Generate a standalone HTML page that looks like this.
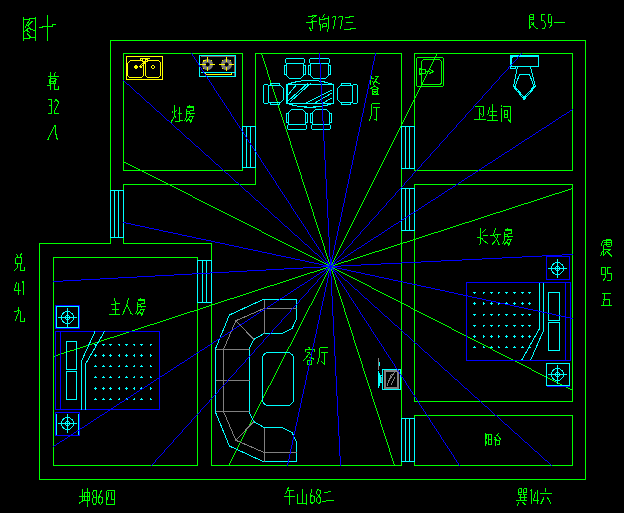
<!DOCTYPE html>
<html><head><meta charset="utf-8"><style>
html,body{margin:0;padding:0;background:#000;width:624px;height:513px;overflow:hidden;font-family:"Liberation Sans",sans-serif}
svg{display:block}
</style></head><body>
<svg width="624" height="513" viewBox="0 0 624 513" shape-rendering="crispEdges" fill="none" stroke-width="1">
<rect x="0" y="0" width="624" height="513" fill="#000" stroke="none"/>
<polyline points="110.50,190.50 110.50,40.50 585.50,40.50 585.50,479.50 39.50,479.50 39.50,243.50 110.50,243.50 110.50,237.50" stroke="#00ff00"/>
<polyline points="242.50,126.00 242.50,53.50 123.50,53.50 123.50,170.50 242.50,170.50 242.50,167.50" stroke="#00ff00"/>
<polyline points="255.50,126.00 255.50,53.50 401.50,53.50 401.50,126.00" stroke="#00ff00"/>
<polyline points="255.50,167.50 255.50,184.50 123.50,184.50 123.50,190.50" stroke="#00ff00"/>
<polyline points="123.50,237.50 123.50,243.50 211.50,243.50 211.50,260.00" stroke="#00ff00"/>
<polyline points="211.50,302.50 211.50,465.50 401.50,465.50 401.50,461.25" stroke="#00ff00"/>
<line x1="401.50" y1="168.00" x2="401.50" y2="188.00" stroke="#00ff00"/>
<line x1="401.50" y1="230.50" x2="401.50" y2="418.75" stroke="#00ff00"/>
<polyline points="197.50,260.00 197.50,257.50 53.50,257.50 53.50,465.50 197.50,465.50 197.50,302.50" stroke="#00ff00"/>
<polyline points="414.50,126.00 414.50,53.50 572.50,53.50 572.50,170.50 414.50,170.50 414.50,168.00" stroke="#00ff00"/>
<polyline points="414.50,188.00 414.50,184.50 572.50,184.50 572.50,401.50 414.50,401.50 414.50,230.50" stroke="#00ff00"/>
<polyline points="414.50,418.75 414.50,415.50 572.50,415.50 572.50,465.50 414.50,465.50 414.50,461.25" stroke="#00ff00"/>
<path d="M330 266v1h1V266zM331 264v2h1V264zM332 262v2h1V262zM333 260v2h1V260zM334 258v2h1V258zM335 256v2h1V256zM336 254v2h1V254zM337 252v2h1V252zM338 250v2h1V250zM339 248v2h1V248zM340 246v2h1V246zM341 244v2h1V244zM342 242v2h1V242zM343 240v2h1V240zM344 238v2h1V238zM345 236v2h1V236zM346 234v2h1V234zM347 232v2h1V232zM348 230v2h1V230zM349 228v2h1V228zM350 226v2h1V226zM351 224v2h1V224zM352 222v2h1V222zM353 220v2h1V220zM354 218v2h1V218zM355 216v2h1V216zM356 214v2h1V214zM357 212v2h1V212zM358 210v2h1V210zM359 208v2h1V208zM360 206v2h1V206zM361 204v2h1V204zM362 202v2h1V202zM363 200v2h1V200zM364 198v2h1V198zM365 196v2h1V196zM366 194v2h1V194zM367 192v2h1V192zM368 190v2h1V190zM369 188v2h1V188zM370 186v2h1V186zM371 184v2h1V184zM372 182v2h1V182zM373 180v2h1V180zM374 178v2h1V178zM375 176v2h1V176zM376 174v2h1V174zM377 172v2h1V172zM378 170v2h1V170zM379 168v2h1V168zM380 166v2h1V166zM381 164v2h1V164zM382 162v2h1V162zM383 160v2h1V160zM384 158v2h1V158zM385 156v2h1V156zM386 154v2h1V154zM387 152v2h1V152zM388 150v2h1V150zM389 148v2h1V148zM390 146v2h1V146zM391 144v2h1V144zM392 142v2h1V142zM393 140v2h1V140zM394 138v2h1V138zM395 136v2h1V136zM396 134v2h1V134zM397 132v2h1V132zM398 130v2h1V130zM399 128v2h1V128zM400 126v2h1V126zM401 124v2h1V124zM402 122v2h1V122zM403 120v2h1V120zM404 118v2h1V118zM405 116v2h1V116zM406 114v2h1V114zM407 112v2h1V112zM408 110v2h1V110zM409 108v2h1V108zM410 106v2h1V106zM411 104v2h1V104zM412 102v2h1V102zM413 100v2h1V100zM414 98v2h1V98zM415 96v2h1V96zM416 94v2h1V94zM417 92v2h1V92zM418 90v2h1V90zM419 88v2h1V88zM420 86v2h1V86zM421 84v2h1V84zM422 82v2h1V82zM423 80v2h1V80zM424 78v2h1V78zM425 76v2h1V76zM426 74v2h1V74zM427 72v2h1V72zM428 70v2h1V70zM429 68v2h1V68zM430 66v2h1V66zM431 64v2h1V64zM432 62v2h1V62zM433 60v2h1V60zM434 58v2h1V58zM435 56v2h1V56zM436 54v2h1V54zM437 53v1h1V53z" fill="#00ff00" stroke="none"/>
<path d="M571 188h2v1H571zM568 189h3v1H568zM565 190h3v1H565zM562 191h3v1H562zM559 192h3v1H559zM555 193h4v1H555zM552 194h3v1H552zM549 195h3v1H549zM546 196h3v1H546zM543 197h3v1H543zM540 198h3v1H540zM537 199h3v1H537zM534 200h3v1H534zM531 201h3v1H531zM528 202h3v1H528zM524 203h4v1H524zM521 204h3v1H521zM518 205h3v1H518zM515 206h3v1H515zM512 207h3v1H512zM509 208h3v1H509zM506 209h3v1H506zM503 210h3v1H503zM500 211h3v1H500zM496 212h4v1H496zM493 213h3v1H493zM490 214h3v1H490zM487 215h3v1H487zM484 216h3v1H484zM481 217h3v1H481zM478 218h3v1H478zM475 219h3v1H475zM472 220h3v1H472zM469 221h3v1H469zM465 222h4v1H465zM462 223h3v1H462zM459 224h3v1H459zM456 225h3v1H456zM453 226h3v1H453zM450 227h3v1H450zM447 228h3v1H447zM444 229h3v1H444zM441 230h3v1H441zM438 231h3v1H438zM434 232h4v1H434zM431 233h3v1H431zM428 234h3v1H428zM425 235h3v1H425zM422 236h3v1H422zM419 237h3v1H419zM416 238h3v1H416zM413 239h3v1H413zM410 240h3v1H410zM407 241h3v1H407zM403 242h4v1H403zM400 243h3v1H400zM397 244h3v1H397zM394 245h3v1H394zM391 246h3v1H391zM388 247h3v1H388zM385 248h3v1H385zM382 249h3v1H382zM379 250h3v1H379zM375 251h4v1H375zM372 252h3v1H372zM369 253h3v1H369zM366 254h3v1H366zM363 255h3v1H363zM360 256h3v1H360zM357 257h3v1H357zM354 258h3v1H354zM351 259h3v1H351zM348 260h3v1H348zM344 261h4v1H344zM341 262h3v1H341zM338 263h3v1H338zM335 264h3v1H335zM332 265h3v1H332zM330 266h2v1H330z" fill="#00ff00" stroke="none"/>
<path d="M330 266h1v1H330zM331 267h2v1H331zM333 268h2v1H333zM335 269h2v1H335zM337 270h2v1H337zM339 271h2v1H339zM341 272h2v1H341zM343 273h2v1H343zM345 274h2v1H345zM347 275h2v1H347zM349 276h2v1H349zM351 277h2v1H351zM353 278h2v1H353zM355 279h2v1H355zM357 280h2v1H357zM359 281h2v1H359zM361 282h2v1H361zM363 283h2v1H363zM365 284h2v1H365zM367 285h2v1H367zM369 286h2v1H369zM371 287h1v1H371zM372 288h2v1H372zM374 289h2v1H374zM376 290h2v1H376zM378 291h2v1H378zM380 292h2v1H380zM382 293h2v1H382zM384 294h2v1H384zM386 295h2v1H386zM388 296h2v1H388zM390 297h2v1H390zM392 298h2v1H392zM394 299h2v1H394zM396 300h2v1H396zM398 301h2v1H398zM400 302h2v1H400zM402 303h2v1H402zM404 304h2v1H404zM406 305h2v1H406zM408 306h2v1H408zM410 307h1v1H410zM411 308h2v1H411zM413 309h2v1H413zM415 310h2v1H415zM417 311h2v1H417zM419 312h2v1H419zM421 313h2v1H421zM423 314h2v1H423zM425 315h2v1H425zM427 316h2v1H427zM429 317h2v1H429zM431 318h2v1H431zM433 319h2v1H433zM435 320h2v1H435zM437 321h2v1H437zM439 322h2v1H439zM441 323h2v1H441zM443 324h2v1H443zM445 325h2v1H445zM447 326h2v1H447zM449 327h2v1H449zM451 328h1v1H451zM452 329h2v1H452zM454 330h2v1H454zM456 331h2v1H456zM458 332h2v1H458zM460 333h2v1H460zM462 334h2v1H462zM464 335h2v1H464zM466 336h2v1H466zM468 337h2v1H468zM470 338h2v1H470zM472 339h2v1H472zM474 340h2v1H474zM476 341h2v1H476zM478 342h2v1H478zM480 343h2v1H480zM482 344h2v1H482zM484 345h2v1H484zM486 346h2v1H486zM488 347h2v1H488zM490 348h2v1H490zM492 349h1v1H492zM493 350h2v1H493zM495 351h2v1H495zM497 352h2v1H497zM499 353h2v1H499zM501 354h2v1H501zM503 355h2v1H503zM505 356h2v1H505zM507 357h2v1H507zM509 358h2v1H509zM511 359h2v1H511zM513 360h2v1H513zM515 361h2v1H515zM517 362h2v1H517zM519 363h2v1H519zM521 364h2v1H521zM523 365h2v1H523zM525 366h2v1H525zM527 367h2v1H527zM529 368h2v1H529zM531 369h1v1H531zM532 370h2v1H532zM534 371h2v1H534zM536 372h2v1H536zM538 373h2v1H538zM540 374h2v1H540zM542 375h2v1H542zM544 376h2v1H544zM546 377h2v1H546zM548 378h2v1H548zM550 379h2v1H550zM552 380h2v1H552zM554 381h2v1H554zM556 382h2v1H556zM558 383h2v1H558zM560 384h2v1H560zM562 385h2v1H562zM564 386h2v1H564zM566 387h2v1H566zM568 388h2v1H568zM570 389h2v1H570zM572 390h1v1H572z" fill="#00ff00" stroke="none"/>
<path d="M330 266v2h1V266zM331 268v3h1V268zM332 271v3h1V271zM333 274v3h1V274zM334 277v3h1V277zM335 280v4h1V280zM336 284v3h1V284zM337 287v3h1V287zM338 290v3h1V290zM339 293v3h1V293zM340 296v3h1V296zM341 299v3h1V299zM342 302v3h1V302zM343 305v3h1V305zM344 308v4h1V308zM345 312v3h1V312zM346 315v3h1V315zM347 318v3h1V318zM348 321v3h1V321zM349 324v3h1V324zM350 327v3h1V327zM351 330v3h1V330zM352 333v3h1V333zM353 336v4h1V336zM354 340v3h1V340zM355 343v3h1V343zM356 346v3h1V346zM357 349v3h1V349zM358 352v3h1V352zM359 355v3h1V355zM360 358v3h1V358zM361 361v3h1V361zM362 364v4h1V364zM363 368v3h1V368zM364 371v3h1V371zM365 374v3h1V374zM366 377v3h1V377zM367 380v3h1V380zM368 383v3h1V383zM369 386v3h1V386zM370 389v3h1V389zM371 392v4h1V392zM372 396v3h1V396zM373 399v3h1V399zM374 402v3h1V402zM375 405v3h1V405zM376 408v3h1V408zM377 411v3h1V411zM378 414v3h1V414zM379 417v3h1V417zM380 420v4h1V420zM381 424v3h1V424zM382 427v3h1V427zM383 430v3h1V430zM384 433v3h1V433zM385 436v3h1V436zM386 439v3h1V439zM387 442v3h1V442zM388 445v3h1V445zM389 448v4h1V448zM390 452v3h1V452zM391 455v3h1V455zM392 458v3h1V458zM393 461v3h1V461zM394 464v2h1V464z" fill="#00ff00" stroke="none"/>
<path d="M228 465v1h1V465zM229 463v2h1V463zM230 461v2h1V461zM231 459v2h1V459zM232 457v2h1V457zM233 455v2h1V455zM234 453v2h1V453zM235 451v2h1V451zM236 449v2h1V449zM237 447v2h1V447zM238 445v2h1V445zM239 443v2h1V443zM240 441v2h1V441zM241 439v2h1V439zM242 437v2h1V437zM243 435v2h1V435zM244 433v2h1V433zM245 431v2h1V431zM246 429v2h1V429zM247 427v2h1V427zM248 426v1h1V426zM249 424v2h1V424zM250 422v2h1V422zM251 420v2h1V420zM252 418v2h1V418zM253 416v2h1V416zM254 414v2h1V414zM255 412v2h1V412zM256 410v2h1V410zM257 408v2h1V408zM258 406v2h1V406zM259 404v2h1V404zM260 402v2h1V402zM261 400v2h1V400zM262 398v2h1V398zM263 396v2h1V396zM264 394v2h1V394zM265 392v2h1V392zM266 390v2h1V390zM267 388v2h1V388zM268 386v2h1V386zM269 385v1h1V385zM270 383v2h1V383zM271 381v2h1V381zM272 379v2h1V379zM273 377v2h1V377zM274 375v2h1V375zM275 373v2h1V373zM276 371v2h1V371zM277 369v2h1V369zM278 367v2h1V367zM279 365v2h1V365zM280 363v2h1V363zM281 361v2h1V361zM282 359v2h1V359zM283 357v2h1V357zM284 355v2h1V355zM285 353v2h1V353zM286 351v2h1V351zM287 349v2h1V349zM288 347v2h1V347zM289 346v1h1V346zM290 344v2h1V344zM291 342v2h1V342zM292 340v2h1V340zM293 338v2h1V338zM294 336v2h1V336zM295 334v2h1V334zM296 332v2h1V332zM297 330v2h1V330zM298 328v2h1V328zM299 326v2h1V326zM300 324v2h1V324zM301 322v2h1V322zM302 320v2h1V320zM303 318v2h1V318zM304 316v2h1V316zM305 314v2h1V314zM306 312v2h1V312zM307 310v2h1V310zM308 308v2h1V308zM309 306v2h1V306zM310 305v1h1V305zM311 303v2h1V303zM312 301v2h1V301zM313 299v2h1V299zM314 297v2h1V297zM315 295v2h1V295zM316 293v2h1V293zM317 291v2h1V291zM318 289v2h1V289zM319 287v2h1V287zM320 285v2h1V285zM321 283v2h1V283zM322 281v2h1V281zM323 279v2h1V279zM324 277v2h1V277zM325 275v2h1V275zM326 273v2h1V273zM327 271v2h1V271zM328 269v2h1V269zM329 267v2h1V267zM330 266v1h1V266z" fill="#00ff00" stroke="none"/>
<path d="M329 266h2v1H329zM326 267h3v1H326zM323 268h3v1H323zM320 269h3v1H320zM317 270h3v1H317zM314 271h3v1H314zM310 272h4v1H310zM307 273h3v1H307zM304 274h3v1H304zM301 275h3v1H301zM298 276h3v1H298zM295 277h3v1H295zM292 278h3v1H292zM289 279h3v1H289zM286 280h3v1H286zM283 281h3v1H283zM280 282h3v1H280zM277 283h3v1H277zM274 284h3v1H274zM270 285h4v1H270zM267 286h3v1H267zM264 287h3v1H264zM261 288h3v1H261zM258 289h3v1H258zM255 290h3v1H255zM252 291h3v1H252zM249 292h3v1H249zM246 293h3v1H246zM243 294h3v1H243zM240 295h3v1H240zM237 296h3v1H237zM234 297h3v1H234zM230 298h4v1H230zM227 299h3v1H227zM224 300h3v1H224zM221 301h3v1H221zM218 302h3v1H218zM215 303h3v1H215zM212 304h3v1H212zM209 305h3v1H209zM206 306h3v1H206zM203 307h3v1H203zM200 308h3v1H200zM197 309h3v1H197zM194 310h3v1H194zM190 311h4v1H190zM187 312h3v1H187zM184 313h3v1H184zM181 314h3v1H181zM178 315h3v1H178zM175 316h3v1H175zM172 317h3v1H172zM169 318h3v1H169zM166 319h3v1H166zM163 320h3v1H163zM160 321h3v1H160zM157 322h3v1H157zM154 323h3v1H154zM150 324h4v1H150zM147 325h3v1H147zM144 326h3v1H144zM141 327h3v1H141zM138 328h3v1H138zM135 329h3v1H135zM132 330h3v1H132zM129 331h3v1H129zM126 332h3v1H126zM123 333h3v1H123zM120 334h3v1H120zM117 335h3v1H117zM114 336h3v1H114zM110 337h4v1H110zM107 338h3v1H107zM104 339h3v1H104zM101 340h3v1H101zM98 341h3v1H98zM95 342h3v1H95zM92 343h3v1H92zM89 344h3v1H89zM86 345h3v1H86zM83 346h3v1H83zM80 347h3v1H80zM77 348h3v1H77zM74 349h3v1H74zM70 350h4v1H70zM67 351h3v1H67zM64 352h3v1H64zM61 353h3v1H61zM58 354h3v1H58zM55 355h3v1H55zM53 356h2v1H53z" fill="#00ff00" stroke="none"/>
<path d="M123 161h1v1H123zM124 162h2v1H124zM126 163h2v1H126zM128 164h2v1H128zM130 165h2v1H130zM132 166h2v1H132zM134 167h2v1H134zM136 168h2v1H136zM138 169h2v1H138zM140 170h2v1H140zM142 171h2v1H142zM144 172h2v1H144zM146 173h2v1H146zM148 174h2v1H148zM150 175h2v1H150zM152 176h2v1H152zM154 177h2v1H154zM156 178h2v1H156zM158 179h2v1H158zM160 180h2v1H160zM162 181h2v1H162zM164 182h2v1H164zM166 183h2v1H166zM168 184h2v1H168zM170 185h2v1H170zM172 186h2v1H172zM174 187h2v1H174zM176 188h2v1H176zM178 189h2v1H178zM180 190h2v1H180zM182 191h2v1H182zM184 192h2v1H184zM186 193h2v1H186zM188 194h2v1H188zM190 195h2v1H190zM192 196h1v1H192zM193 197h2v1H193zM195 198h2v1H195zM197 199h2v1H197zM199 200h2v1H199zM201 201h2v1H201zM203 202h2v1H203zM205 203h2v1H205zM207 204h2v1H207zM209 205h2v1H209zM211 206h2v1H211zM213 207h2v1H213zM215 208h2v1H215zM217 209h2v1H217zM219 210h2v1H219zM221 211h2v1H221zM223 212h2v1H223zM225 213h2v1H225zM227 214h2v1H227zM229 215h2v1H229zM231 216h2v1H231zM233 217h2v1H233zM235 218h2v1H235zM237 219h2v1H237zM239 220h2v1H239zM241 221h2v1H241zM243 222h2v1H243zM245 223h2v1H245zM247 224h2v1H247zM249 225h2v1H249zM251 226h2v1H251zM253 227h2v1H253zM255 228h2v1H255zM257 229h2v1H257zM259 230h2v1H259zM261 231h1v1H261zM262 232h2v1H262zM264 233h2v1H264zM266 234h2v1H266zM268 235h2v1H268zM270 236h2v1H270zM272 237h2v1H272zM274 238h2v1H274zM276 239h2v1H276zM278 240h2v1H278zM280 241h2v1H280zM282 242h2v1H282zM284 243h2v1H284zM286 244h2v1H286zM288 245h2v1H288zM290 246h2v1H290zM292 247h2v1H292zM294 248h2v1H294zM296 249h2v1H296zM298 250h2v1H298zM300 251h2v1H300zM302 252h2v1H302zM304 253h2v1H304zM306 254h2v1H306zM308 255h2v1H308zM310 256h2v1H310zM312 257h2v1H312zM314 258h2v1H314zM316 259h2v1H316zM318 260h2v1H318zM320 261h2v1H320zM322 262h2v1H322zM324 263h2v1H324zM326 264h2v1H326zM328 265h2v1H328zM330 266h1v1H330z" fill="#00ff00" stroke="none"/>
<path d="M261 53v2h1V53zM262 55v3h1V55zM263 58v3h1V58zM264 61v3h1V61zM265 64v3h1V64zM266 67v3h1V67zM267 70v4h1V70zM268 74v3h1V74zM269 77v3h1V77zM270 80v3h1V80zM271 83v3h1V83zM272 86v3h1V86zM273 89v3h1V89zM274 92v3h1V92zM275 95v3h1V95zM276 98v3h1V98zM277 101v3h1V101zM278 104v4h1V104zM279 108v3h1V108zM280 111v3h1V111zM281 114v3h1V114zM282 117v3h1V117zM283 120v3h1V120zM284 123v3h1V123zM285 126v3h1V126zM286 129v3h1V129zM287 132v3h1V132zM288 135v3h1V135zM289 138v3h1V138zM290 141v4h1V141zM291 145v3h1V145zM292 148v3h1V148zM293 151v3h1V151zM294 154v3h1V154zM295 157v3h1V157zM296 160v3h1V160zM297 163v3h1V163zM298 166v3h1V166zM299 169v3h1V169zM300 172v3h1V172zM301 175v4h1V175zM302 179v3h1V179zM303 182v3h1V182zM304 185v3h1V185zM305 188v3h1V188zM306 191v3h1V191zM307 194v3h1V194zM308 197v3h1V197zM309 200v3h1V200zM310 203v3h1V203zM311 206v3h1V206zM312 209v3h1V209zM313 212v4h1V212zM314 216v3h1V216zM315 219v3h1V219zM316 222v3h1V222zM317 225v3h1V225zM318 228v3h1V228zM319 231v3h1V231zM320 234v3h1V234zM321 237v3h1V237zM322 240v3h1V240zM323 243v3h1V243zM324 246v4h1V246zM325 250v3h1V250zM326 253v3h1V253zM327 256v3h1V256zM328 259v3h1V259zM329 262v3h1V262zM330 265v2h1V265z" fill="#00ff00" stroke="none"/>
<rect x="242.5" y="126.5" width="13.0" height="41.0" stroke="#00ffff"/>
<line x1="246.50" y1="126.50" x2="246.50" y2="167.50" stroke="#00ffff"/>
<line x1="250.50" y1="126.50" x2="250.50" y2="167.50" stroke="#00ffff"/>
<rect x="110.5" y="190.5" width="13.0" height="47.0" stroke="#00ffff"/>
<line x1="114.50" y1="190.50" x2="114.50" y2="237.50" stroke="#00ffff"/>
<line x1="118.50" y1="190.50" x2="118.50" y2="237.50" stroke="#00ffff"/>
<rect x="197.5" y="260.5" width="14.0" height="42.0" stroke="#00ffff"/>
<line x1="202.00" y1="260.50" x2="202.00" y2="302.50" stroke="#00ffff"/>
<line x1="206.00" y1="260.50" x2="206.00" y2="302.50" stroke="#00ffff"/>
<rect x="401.5" y="126.5" width="13.0" height="42.0" stroke="#00ffff"/>
<line x1="405.50" y1="126.50" x2="405.50" y2="168.50" stroke="#00ffff"/>
<line x1="409.50" y1="126.50" x2="409.50" y2="168.50" stroke="#00ffff"/>
<rect x="401.5" y="188.5" width="13.0" height="42.0" stroke="#00ffff"/>
<line x1="405.50" y1="188.50" x2="405.50" y2="230.50" stroke="#00ffff"/>
<line x1="409.50" y1="188.50" x2="409.50" y2="230.50" stroke="#00ffff"/>
<rect x="401.5" y="418.5" width="13.0" height="43.0" stroke="#00ffff"/>
<line x1="405.50" y1="418.50" x2="405.50" y2="461.50" stroke="#00ffff"/>
<line x1="409.50" y1="418.50" x2="409.50" y2="461.50" stroke="#00ffff"/>
<rect x="55.5" y="331.5" width="104.0" height="78.0" stroke="#0000ff"/>
<line x1="60.50" y1="331.50" x2="60.50" y2="409.50" stroke="#0000ff"/>
<rect x="66.5" y="341.5" width="10.0" height="28.0" stroke="#00ffff"/>
<rect x="66.5" y="371.5" width="10.0" height="28.0" stroke="#00ffff"/>
<polyline points="81.50,409.50 81.50,361.00 95.00,331.50" stroke="#00ffff"/>
<polyline points="85.50,409.50 85.50,364.00 104.50,331.50" stroke="#00ffff"/>
<rect x="466.5" y="282.5" width="104.0" height="78.0" stroke="#0000ff"/>
<line x1="565.50" y1="282.50" x2="565.50" y2="360.50" stroke="#0000ff"/>
<rect x="548.5" y="292.5" width="11.0" height="28.0" stroke="#00ffff"/>
<rect x="548.5" y="322.5" width="11.0" height="28.0" stroke="#00ffff"/>
<polyline points="539.50,282.50 539.50,328.50 521.50,360.50" stroke="#00ffff"/>
<polyline points="543.50,282.50 543.50,330.50 530.50,360.50" stroke="#00ffff"/>
<path d="M95 345h1v1h-1zM94 344h1v1h-1zM95 344h1v1h-1zM96 344h1v1h-1zM95 356h1v1h-1zM94 355h1v1h-1zM95 355h1v1h-1zM96 355h1v1h-1zM95 354h1v1h-1zM94 366h1v1h-1zM95 366h1v1h-1zM96 366h1v1h-1zM95 365h1v1h-1zM94 377h1v1h-1zM95 377h1v1h-1zM96 377h1v1h-1zM95 376h1v1h-1zM95 389h1v1h-1zM94 388h1v1h-1zM95 388h1v1h-1zM96 388h1v1h-1zM95 387h1v1h-1zM94 399h1v1h-1zM95 399h1v1h-1zM96 399h1v1h-1zM95 398h1v1h-1zM103 345h1v1h-1zM102 344h1v1h-1zM103 344h1v1h-1zM104 344h1v1h-1zM103 356h1v1h-1zM102 355h1v1h-1zM103 355h1v1h-1zM104 355h1v1h-1zM103 354h1v1h-1zM102 366h1v1h-1zM103 366h1v1h-1zM104 366h1v1h-1zM103 365h1v1h-1zM102 377h1v1h-1zM103 377h1v1h-1zM104 377h1v1h-1zM103 376h1v1h-1zM103 389h1v1h-1zM102 388h1v1h-1zM103 388h1v1h-1zM104 388h1v1h-1zM103 387h1v1h-1zM102 399h1v1h-1zM103 399h1v1h-1zM104 399h1v1h-1zM103 398h1v1h-1zM110 345h1v1h-1zM109 344h1v1h-1zM110 344h1v1h-1zM111 344h1v1h-1zM110 356h1v1h-1zM109 355h1v1h-1zM110 355h1v1h-1zM111 355h1v1h-1zM110 354h1v1h-1zM109 366h1v1h-1zM110 366h1v1h-1zM111 366h1v1h-1zM110 365h1v1h-1zM109 377h1v1h-1zM110 377h1v1h-1zM111 377h1v1h-1zM110 376h1v1h-1zM110 389h1v1h-1zM109 388h1v1h-1zM110 388h1v1h-1zM111 388h1v1h-1zM110 387h1v1h-1zM109 399h1v1h-1zM110 399h1v1h-1zM111 399h1v1h-1zM110 398h1v1h-1zM119 345h1v1h-1zM118 344h1v1h-1zM119 344h1v1h-1zM119 356h1v1h-1zM118 355h1v1h-1zM119 355h1v1h-1zM119 354h1v1h-1zM118 366h1v1h-1zM119 366h1v1h-1zM119 365h1v1h-1zM118 377h1v1h-1zM119 377h1v1h-1zM119 376h1v1h-1zM119 389h1v1h-1zM118 388h1v1h-1zM119 388h1v1h-1zM119 387h1v1h-1zM118 399h1v1h-1zM119 399h1v1h-1zM119 398h1v1h-1zM126 345h1v1h-1zM125 344h1v1h-1zM126 344h1v1h-1zM127 344h1v1h-1zM126 356h1v1h-1zM125 355h1v1h-1zM126 355h1v1h-1zM127 355h1v1h-1zM126 354h1v1h-1zM125 366h1v1h-1zM126 366h1v1h-1zM127 366h1v1h-1zM126 365h1v1h-1zM125 377h1v1h-1zM126 377h1v1h-1zM127 377h1v1h-1zM126 376h1v1h-1zM126 389h1v1h-1zM125 388h1v1h-1zM126 388h1v1h-1zM127 388h1v1h-1zM126 387h1v1h-1zM125 399h1v1h-1zM126 399h1v1h-1zM127 399h1v1h-1zM126 398h1v1h-1zM134 345h1v1h-1zM133 344h1v1h-1zM134 344h1v1h-1zM134 356h1v1h-1zM133 355h1v1h-1zM134 355h1v1h-1zM134 354h1v1h-1zM133 366h1v1h-1zM134 366h1v1h-1zM134 365h1v1h-1zM133 377h1v1h-1zM134 377h1v1h-1zM134 376h1v1h-1zM134 389h1v1h-1zM133 388h1v1h-1zM134 388h1v1h-1zM134 387h1v1h-1zM133 399h1v1h-1zM134 399h1v1h-1zM134 398h1v1h-1zM141 345h1v1h-1zM140 344h1v1h-1zM141 344h1v1h-1zM142 344h1v1h-1zM141 356h1v1h-1zM140 355h1v1h-1zM141 355h1v1h-1zM142 355h1v1h-1zM141 354h1v1h-1zM140 366h1v1h-1zM141 366h1v1h-1zM142 366h1v1h-1zM141 365h1v1h-1zM140 377h1v1h-1zM141 377h1v1h-1zM142 377h1v1h-1zM141 376h1v1h-1zM141 389h1v1h-1zM140 388h1v1h-1zM141 388h1v1h-1zM142 388h1v1h-1zM141 387h1v1h-1zM140 399h1v1h-1zM141 399h1v1h-1zM142 399h1v1h-1zM141 398h1v1h-1zM150 345h1v1h-1zM150 344h1v1h-1zM151 344h1v1h-1zM150 356h1v1h-1zM150 355h1v1h-1zM151 355h1v1h-1zM150 354h1v1h-1zM150 366h1v1h-1zM151 366h1v1h-1zM150 365h1v1h-1zM150 377h1v1h-1zM151 377h1v1h-1zM150 376h1v1h-1zM150 389h1v1h-1zM150 388h1v1h-1zM151 388h1v1h-1zM150 387h1v1h-1zM150 399h1v1h-1zM151 399h1v1h-1zM150 398h1v1h-1z" fill="#00ffff" stroke="none"/>
<path d="M474 293h1v1h-1zM473 292h1v1h-1zM474 292h1v1h-1zM475 292h1v1h-1zM474 304h1v1h-1zM473 303h1v1h-1zM474 303h1v1h-1zM475 303h1v1h-1zM474 302h1v1h-1zM474 315h1v1h-1zM473 314h1v1h-1zM474 314h1v1h-1zM475 314h1v1h-1zM474 326h1v1h-1zM473 325h1v1h-1zM474 325h1v1h-1zM475 325h1v1h-1zM474 337h1v1h-1zM473 336h1v1h-1zM474 336h1v1h-1zM475 336h1v1h-1zM474 335h1v1h-1zM473 347h1v1h-1zM474 347h1v1h-1zM475 347h1v1h-1zM474 346h1v1h-1zM483 293h1v1h-1zM483 292h1v1h-1zM484 292h1v1h-1zM483 304h1v1h-1zM483 303h1v1h-1zM484 303h1v1h-1zM483 302h1v1h-1zM483 315h1v1h-1zM483 314h1v1h-1zM484 314h1v1h-1zM483 326h1v1h-1zM483 325h1v1h-1zM484 325h1v1h-1zM483 337h1v1h-1zM483 336h1v1h-1zM484 336h1v1h-1zM483 335h1v1h-1zM483 347h1v1h-1zM484 347h1v1h-1zM483 346h1v1h-1zM491 293h1v1h-1zM490 292h1v1h-1zM491 292h1v1h-1zM492 292h1v1h-1zM491 304h1v1h-1zM490 303h1v1h-1zM491 303h1v1h-1zM492 303h1v1h-1zM491 302h1v1h-1zM491 315h1v1h-1zM490 314h1v1h-1zM491 314h1v1h-1zM492 314h1v1h-1zM491 326h1v1h-1zM490 325h1v1h-1zM491 325h1v1h-1zM492 325h1v1h-1zM491 337h1v1h-1zM490 336h1v1h-1zM491 336h1v1h-1zM492 336h1v1h-1zM491 335h1v1h-1zM490 347h1v1h-1zM491 347h1v1h-1zM492 347h1v1h-1zM491 346h1v1h-1zM498 293h1v1h-1zM498 292h1v1h-1zM499 292h1v1h-1zM498 304h1v1h-1zM498 303h1v1h-1zM499 303h1v1h-1zM498 302h1v1h-1zM498 315h1v1h-1zM498 314h1v1h-1zM499 314h1v1h-1zM498 326h1v1h-1zM498 325h1v1h-1zM499 325h1v1h-1zM498 337h1v1h-1zM498 336h1v1h-1zM499 336h1v1h-1zM498 335h1v1h-1zM498 347h1v1h-1zM499 347h1v1h-1zM498 346h1v1h-1zM506 293h1v1h-1zM505 292h1v1h-1zM506 292h1v1h-1zM507 292h1v1h-1zM506 304h1v1h-1zM505 303h1v1h-1zM506 303h1v1h-1zM507 303h1v1h-1zM506 302h1v1h-1zM506 315h1v1h-1zM505 314h1v1h-1zM506 314h1v1h-1zM507 314h1v1h-1zM506 326h1v1h-1zM505 325h1v1h-1zM506 325h1v1h-1zM507 325h1v1h-1zM506 337h1v1h-1zM505 336h1v1h-1zM506 336h1v1h-1zM507 336h1v1h-1zM506 335h1v1h-1zM505 347h1v1h-1zM506 347h1v1h-1zM507 347h1v1h-1zM506 346h1v1h-1zM514 293h1v1h-1zM513 292h1v1h-1zM514 292h1v1h-1zM515 292h1v1h-1zM514 304h1v1h-1zM513 303h1v1h-1zM514 303h1v1h-1zM515 303h1v1h-1zM514 302h1v1h-1zM514 315h1v1h-1zM513 314h1v1h-1zM514 314h1v1h-1zM515 314h1v1h-1zM514 326h1v1h-1zM513 325h1v1h-1zM514 325h1v1h-1zM515 325h1v1h-1zM514 337h1v1h-1zM513 336h1v1h-1zM514 336h1v1h-1zM515 336h1v1h-1zM514 335h1v1h-1zM513 347h1v1h-1zM514 347h1v1h-1zM515 347h1v1h-1zM514 346h1v1h-1zM522 293h1v1h-1zM521 292h1v1h-1zM522 292h1v1h-1zM523 292h1v1h-1zM522 304h1v1h-1zM521 303h1v1h-1zM522 303h1v1h-1zM523 303h1v1h-1zM522 302h1v1h-1zM522 315h1v1h-1zM521 314h1v1h-1zM522 314h1v1h-1zM523 314h1v1h-1zM522 326h1v1h-1zM521 325h1v1h-1zM522 325h1v1h-1zM523 325h1v1h-1zM522 337h1v1h-1zM521 336h1v1h-1zM522 336h1v1h-1zM523 336h1v1h-1zM522 335h1v1h-1zM521 347h1v1h-1zM522 347h1v1h-1zM523 347h1v1h-1zM522 346h1v1h-1zM529 293h1v1h-1zM528 292h1v1h-1zM529 292h1v1h-1zM530 292h1v1h-1zM529 304h1v1h-1zM528 303h1v1h-1zM529 303h1v1h-1zM530 303h1v1h-1zM529 302h1v1h-1zM529 315h1v1h-1zM528 314h1v1h-1zM529 314h1v1h-1zM530 314h1v1h-1zM529 326h1v1h-1zM528 325h1v1h-1zM529 325h1v1h-1zM530 325h1v1h-1zM529 337h1v1h-1zM528 336h1v1h-1zM529 336h1v1h-1zM530 336h1v1h-1zM529 335h1v1h-1zM528 347h1v1h-1zM529 347h1v1h-1zM530 347h1v1h-1zM529 346h1v1h-1z" fill="#00ffff" stroke="none"/>
<rect x="55.5" y="305.5" width="24.0" height="23.0" stroke="#0000ff"/>
<rect x="56.5" y="306.5" width="22.0" height="21.0" stroke="#00ffff"/>
<circle cx="67.5" cy="317.5" r="6" stroke="#00ffff" fill="none"/>
<circle cx="67.5" cy="317.5" r="2" stroke="#00ffff" fill="none"/>
<line x1="58.00" y1="317.50" x2="77.00" y2="317.50" stroke="#00ffff"/>
<line x1="67.50" y1="308.00" x2="67.50" y2="327.00" stroke="#00ffff"/>
<rect x="55.5" y="412.5" width="24.0" height="23.0" stroke="#0000ff"/>
<line x1="56.50" y1="413.50" x2="56.50" y2="434.50" stroke="#00ffff"/>
<line x1="78.50" y1="413.50" x2="78.50" y2="434.50" stroke="#00ffff"/>
<circle cx="67.5" cy="423.5" r="6" stroke="#00ffff" fill="none"/>
<circle cx="67.5" cy="423.5" r="2" stroke="#00ffff" fill="none"/>
<line x1="58.00" y1="423.50" x2="77.00" y2="423.50" stroke="#00ffff"/>
<line x1="67.50" y1="414.00" x2="67.50" y2="433.00" stroke="#00ffff"/>
<rect x="546.5" y="256.5" width="23.0" height="23.0" stroke="#0000ff"/>
<circle cx="557.5" cy="268.5" r="6" stroke="#00ffff" fill="none"/>
<circle cx="557.5" cy="268.5" r="2" stroke="#00ffff" fill="none"/>
<line x1="548.00" y1="268.50" x2="567.00" y2="268.50" stroke="#00ffff"/>
<line x1="557.50" y1="259.00" x2="557.50" y2="278.00" stroke="#00ffff"/>
<rect x="546.5" y="363.5" width="23.0" height="22.0" stroke="#00ffff"/>
<line x1="546.50" y1="386.50" x2="569.50" y2="386.50" stroke="#0000ff"/>
<circle cx="557.5" cy="374.5" r="6" stroke="#00ffff" fill="none"/>
<circle cx="557.5" cy="374.5" r="2" stroke="#00ffff" fill="none"/>
<line x1="548.00" y1="374.50" x2="567.00" y2="374.50" stroke="#00ffff"/>
<line x1="557.50" y1="365.00" x2="557.50" y2="384.00" stroke="#00ffff"/>
<polygon points="215.50,380.50 215.50,412.20 229.40,446.00 263.10,461.50 296.50,461.50 296.50,442.20 292.20,432.80 281.90,427.50 264.10,427.50 253.75,421.60 249.50,413.10 249.50,380.50 249.50,380.50 249.50,347.90 253.75,339.40 264.10,333.50 281.90,333.50 292.20,328.20 296.50,318.80 296.50,299.50 263.10,299.50 229.40,315.00 215.50,348.80 215.50,380.50" stroke="#00ffff"/>
<line x1="215.50" y1="411.50" x2="249.50" y2="411.50" stroke="#808080"/>
<line x1="223.50" y1="380.50" x2="223.50" y2="411.50" stroke="#808080"/>
<polyline points="223.50,411.50 235.90,440.30 253.75,421.60" stroke="#808080"/>
<polyline points="235.90,440.30 264.10,452.50 296.50,452.50" stroke="#808080"/>
<line x1="264.10" y1="427.50" x2="264.10" y2="461.50" stroke="#808080"/>
<line x1="215.50" y1="349.50" x2="249.50" y2="349.50" stroke="#808080"/>
<line x1="223.50" y1="380.50" x2="223.50" y2="349.50" stroke="#808080"/>
<polyline points="223.50,349.50 235.90,320.70 253.75,339.40" stroke="#808080"/>
<polyline points="235.90,320.70 264.10,308.50 296.50,308.50" stroke="#808080"/>
<line x1="264.10" y1="333.50" x2="264.10" y2="299.50" stroke="#808080"/>
<line x1="215.50" y1="380.50" x2="249.50" y2="380.50" stroke="#808080"/>
<rect x="262.5" y="352.5" width="31.0" height="53.0" stroke="#00ffff" rx="6"/>
<rect x="382.5" y="369.5" width="18.0" height="20.0" stroke="#00ffff"/>
<rect x="384.5" y="371" width="13.5" height="17" stroke="#808080" stroke-width="2"/>
<line x1="387.00" y1="386.00" x2="391.50" y2="374.00" stroke="#808080"/>
<line x1="388.50" y1="381.00" x2="394.50" y2="372.50" stroke="#808080"/>
<line x1="391.00" y1="385.00" x2="395.00" y2="377.00" stroke="#808080"/>
<line x1="378.50" y1="357.50" x2="378.50" y2="369.50" stroke="#808080"/>
<line x1="379.50" y1="362.00" x2="379.50" y2="365.50" stroke="#00ffff"/>
<polyline points="378.50,371.00 378.50,388.00" stroke="#00ffff"/>
<polyline points="379.50,373.00 379.50,386.00" stroke="#00ffff"/>
<rect x="380.5" y="375.5" width="2.0" height="7.0" stroke="#00ffff"/>
<line x1="381.50" y1="376.50" x2="381.50" y2="381.50" stroke="#808080"/>
<rect x="126.5" y="56.5" width="36.0" height="23.0" stroke="#ffff00"/>
<polygon points="130.50,60.50 141.50,60.50 143.50,62.50 143.50,75.50 141.50,77.50 129.50,77.50 127.50,75.50 127.50,63.50" stroke="#ffff00"/>
<polygon points="147.50,60.50 158.50,60.50 160.50,62.50 160.50,75.50 158.50,77.50 147.50,77.50 145.50,75.50 145.50,62.50" stroke="#ffff00"/>
<path d="M134 66h4v2h-4zM135 65h2v4h-2z" fill="#ffff00" stroke="none"/>
<path d="M152 65h2v1h-2zM152 68h2v1h-2zM151 66h1v2h-1zM154 66h1v2h-1z" fill="#ffff00" stroke="none"/>
<line x1="140.50" y1="58.50" x2="149.50" y2="58.50" stroke="#ffff00"/>
<rect x="140.5" y="58.5" width="2.0" height="2.0" stroke="#ffff00"/>
<rect x="145.5" y="59.5" width="2.0" height="2.0" stroke="#ffff00"/>
<polyline points="144.50,61.00 139.50,67.00" stroke="#ffff00"/>
<polyline points="145.50,62.00 140.50,68.00" stroke="#ffff00"/>
<rect x="199.5" y="55.5" width="36.0" height="21.0" stroke="#00ffff"/>
<path d="M200.5 56.5H234.5V76" stroke="#806060"/>
<line x1="200.50" y1="72.50" x2="234.50" y2="72.50" stroke="#00ffff"/>
<polyline points="205.50,73.00 206.50,74.50 231.50,74.50 231.50,72.50" stroke="#ffff00"/>
<circle cx="207.5" cy="64.5" r="3.8" stroke="#787878" stroke-width="3.4" shape-rendering="auto"/>
<line x1="200.00" y1="64.50" x2="205.50" y2="64.50" stroke="#ffff00"/>
<line x1="209.50" y1="64.50" x2="215.00" y2="64.50" stroke="#ffff00"/>
<line x1="207.50" y1="57.00" x2="207.50" y2="62.00" stroke="#ffff00"/>
<line x1="207.50" y1="67.00" x2="207.50" y2="71.00" stroke="#ffff00"/>
<rect x="203.0" y="60" width="1" height="1" fill="#ffff00" stroke="none"/>
<rect x="211.0" y="60" width="1" height="1" fill="#ffff00" stroke="none"/>
<rect x="203.0" y="68" width="1" height="1" fill="#ffff00" stroke="none"/>
<circle cx="226.5" cy="64.5" r="3.8" stroke="#787878" stroke-width="3.4" shape-rendering="auto"/>
<line x1="219.00" y1="64.50" x2="224.50" y2="64.50" stroke="#ffff00"/>
<line x1="228.50" y1="64.50" x2="234.00" y2="64.50" stroke="#ffff00"/>
<line x1="226.50" y1="57.00" x2="226.50" y2="62.00" stroke="#ffff00"/>
<line x1="226.50" y1="67.00" x2="226.50" y2="71.00" stroke="#ffff00"/>
<rect x="222.0" y="60" width="1" height="1" fill="#ffff00" stroke="none"/>
<rect x="230.0" y="60" width="1" height="1" fill="#ffff00" stroke="none"/>
<rect x="222.0" y="68" width="1" height="1" fill="#ffff00" stroke="none"/>
<path d="M202.5 62.5 L204.5 60.5 L206 60" stroke="#ffff00"/>
<polygon points="286.50,58.50 303.50,58.50 304.50,59.50 304.50,62.50 303.50,63.50 286.50,63.50 285.50,62.50 285.50,59.50" stroke="#00ffff"/>
<polygon points="286.50,63.50 286.50,75.50 289.50,78.50 300.50,78.50 303.50,75.50 303.50,63.50" stroke="#00ffff"/>
<polygon points="284.50,65.50 286.50,65.50 286.50,74.50 284.50,74.50" stroke="#00ffff"/>
<polygon points="303.50,65.50 305.50,65.50 305.50,74.50 303.50,74.50" stroke="#00ffff"/>
<polygon points="310.50,58.50 328.50,58.50 329.50,59.50 329.50,62.50 328.50,63.50 310.50,63.50 309.50,62.50 309.50,59.50" stroke="#00ffff"/>
<polygon points="310.50,63.50 310.50,75.50 313.50,78.50 325.50,78.50 328.50,75.50 328.50,63.50" stroke="#00ffff"/>
<polygon points="308.50,65.50 310.50,65.50 310.50,74.50 308.50,74.50" stroke="#00ffff"/>
<polygon points="328.50,65.50 330.50,65.50 330.50,74.50 328.50,74.50" stroke="#00ffff"/>
<polygon points="288.50,129.50 305.50,129.50 306.50,128.50 306.50,125.50 305.50,124.50 288.50,124.50 287.50,125.50 287.50,128.50" stroke="#00ffff"/>
<polygon points="288.50,124.50 288.50,112.50 291.50,109.50 302.50,109.50 305.50,112.50 305.50,124.50" stroke="#00ffff"/>
<polygon points="286.50,122.50 288.50,122.50 288.50,113.50 286.50,113.50" stroke="#00ffff"/>
<polygon points="305.50,122.50 307.50,122.50 307.50,113.50 305.50,113.50" stroke="#00ffff"/>
<polygon points="312.50,129.50 329.50,129.50 330.50,128.50 330.50,125.50 329.50,124.50 312.50,124.50 311.50,125.50 311.50,128.50" stroke="#00ffff"/>
<polygon points="312.50,124.50 312.50,112.50 315.50,109.50 326.50,109.50 329.50,112.50 329.50,124.50" stroke="#00ffff"/>
<polygon points="310.50,122.50 312.50,122.50 312.50,113.50 310.50,113.50" stroke="#00ffff"/>
<polygon points="329.50,122.50 331.50,122.50 331.50,113.50 329.50,113.50" stroke="#00ffff"/>
<polygon points="263.50,85.50 263.50,102.50 264.50,103.50 267.50,103.50 268.50,102.50 268.50,85.50 267.50,84.50 264.50,84.50" stroke="#00ffff"/>
<polygon points="268.50,85.50 280.50,85.50 283.50,88.50 283.50,99.50 280.50,102.50 268.50,102.50" stroke="#00ffff"/>
<polygon points="270.50,83.50 270.50,85.50 279.50,85.50 279.50,83.50" stroke="#00ffff"/>
<polygon points="270.50,102.50 270.50,104.50 279.50,104.50 279.50,102.50" stroke="#00ffff"/>
<polygon points="357.50,85.50 357.50,102.50 356.50,103.50 353.50,103.50 352.50,102.50 352.50,85.50 353.50,84.50 356.50,84.50" stroke="#00ffff"/>
<polygon points="352.50,85.50 340.50,85.50 337.50,88.50 337.50,99.50 340.50,102.50 352.50,102.50" stroke="#00ffff"/>
<polygon points="350.50,83.50 350.50,85.50 341.50,85.50 341.50,83.50" stroke="#00ffff"/>
<polygon points="350.50,102.50 350.50,104.50 341.50,104.50 341.50,102.50" stroke="#00ffff"/>
<rect x="286.5" y="84.5" width="47.0" height="19.0" stroke="#00ffff"/>
<line x1="287.50" y1="84.50" x2="287.50" y2="103.50" stroke="#00ffff"/>
<path d="M287 84.5 Q310 76 333 84.5 M287 103.5 Q310 111 333 103.5" stroke="#00ffff" fill="none"/>
<line x1="288.00" y1="101.00" x2="308.00" y2="83.00" stroke="#00ffff"/>
<line x1="290.00" y1="102.00" x2="311.00" y2="83.00" stroke="#00ffff"/>
<line x1="288.00" y1="95.00" x2="297.00" y2="84.00" stroke="#00ffff"/>
<line x1="304.00" y1="104.00" x2="332.00" y2="90.00" stroke="#00ffff"/>
<line x1="313.00" y1="104.00" x2="332.00" y2="93.00" stroke="#00ffff"/>
<line x1="321.00" y1="104.00" x2="332.00" y2="98.00" stroke="#00ffff"/>
<rect x="416.5" y="57.5" width="27.0" height="29.0" stroke="#00ff00" rx="2"/>
<rect x="421.5" y="59.5" width="20.0" height="25.0" stroke="#00ff00" rx="3"/>
<line x1="418.50" y1="68.50" x2="421.00" y2="68.50" stroke="#00ff00"/>
<line x1="418.50" y1="74.50" x2="421.00" y2="74.50" stroke="#00ff00"/>
<rect x="419.5" y="69.5" width="6.0" height="4.0" stroke="#00ff00"/>
<line x1="425.50" y1="71.50" x2="430.00" y2="71.50" stroke="#00ff00"/>
<polyline points="429.50,69.00 433.50,71.50 429.50,73.50" stroke="#00ff00"/>
<rect x="510.5" y="55.5" width="28.0" height="11.0" stroke="#00ffff"/>
<line x1="510.50" y1="56.50" x2="538.50" y2="56.50" stroke="#00ffff"/>
<line x1="511.50" y1="55.50" x2="511.50" y2="66.50" stroke="#00ffff"/>
<rect x="511.5" y="56.5" width="1.0" height="1.0" stroke="#00ffff"/>
<rect x="510.5" y="66.5" width="5.0" height="2.0" stroke="#00ffff"/>
<polyline points="517.50,67.00 513.50,86.50 524.00,99.50 535.50,86.50 530.50,67.00" stroke="#00ffff"/>
<polygon points="519.50,74.50 529.50,74.50 534.00,86.50 524.00,97.50 515.00,86.50" stroke="#00ffff"/>
<path d="M23.5 17 L23.5 40.5M35.5 17 L35.5 40.5M23.5 19.5 L29 19.5 L29 18.5 L35.5 18.5M23.5 38.5 L29 38.5 L29 37.5 L35.5 37.5M29.5 20 L25 27.5M32.5 21 L27.5 26M28 26 L30.5 29 L35 31M28.5 28 L24 32M26.5 30 L30.5 33.5M27 33.5 L30.5 37M47.5 15 L47.5 40.5M39 27.5 L42 27.5 L42 26.5 L52.5 26.5 L52.5 24.5 L56 24.5M50.5 72 L50.5 89.5M48 76.5 L58.5 76.5M49.5 78.5 L55 78.5 L55 83 L49.5 83 L49.5 78.5M49.5 81 L54 81M47 85.5 L51 85.5M54.5 83.5 L54.5 89.5 L58.5 89.5 L58.5 85.5M55.5 72 L53.5 77.5M56.5 79 L53 82.5M48 99.5 L51.5 99.5 L51.5 113.5 L48 113.5M49 105.5 L51.5 105.5M54.5 102 L56 99.5 L58 101.5 L58 104 L54.5 111.5 L54.5 113.5 L58.5 113.5M55 125 L52 131 L47.5 140.5M55 125 L55.5 132.5 L57 138.5 L58.5 140.5M308 16.5 L312 16.5 L312 15.5 L316 15.5 L311.5 19.5M306 22.5 L311 22.5 L311 21.5 L317 21.5M312.5 19.5 L312.5 29M309.5 27.5 L311.5 31.5M324.5 14 L322.5 18.5M319.5 16.5 L319.5 24 L320.5 24 L320.5 31M319.5 19.5 L324 19.5 L324 18.5 L328.5 18.5M328.5 16 L328.5 28 L327 31.5M322.5 23 L326 23M322 23.5 L322 27.5M322.5 26.5 L326.5 26.5M326 23 L326 26.5M332.5 16.5 L335.5 16.5 L333.5 29.5M332.5 16.5 L332.5 18M338.5 16.5 L342.5 16.5 L340.5 29.5M338.5 16.5 L338.5 18M345 17.5 L349 17.5 L349 16.5 L354 16.5M346 22.5 L353 22.5M344 29.5 L350 29.5 L350 28.5 L356 28.5M529.5 14.5 L529.5 28.5M529.5 14.5 L533.5 14.5 L533.5 19.5 L529.5 19.5M529.5 17 L533.5 17M528.5 29.5 L531 26.5M531 22 L535 27 L537.5 29M534 22.5 L531.5 25M544.5 14.5 L541.5 14.5 L541.5 20.5 L544 21 L545 23 L545 27 L544 28.5 L541.5 28.5M551 14.5 L548.5 14.5 L548.5 22.5 L551.5 22.5M551.5 15.5 L551.5 25 L548.5 28.5M553.5 22.5 L565 22.5M16.5 254.5 L18 256.5M21.5 253.5 L20 256.5M15.5 257.5 L21.5 257.5 L21.5 263.5 L15.5 263.5 L15.5 257.5M18 263.5 L17 268 L13.5 271.5M20.5 263.5 L20.5 270.5 L24.5 270.5 L24.5 267M16.5 282 L14.5 290.5 L20.5 290.5M18.5 283 L18.5 294.5M23.5 281 L23.5 295M22 283 L23.5 281M14 311.5 L20 310.5M18.5 306.5 L18.5 313 L15 321M20 310.5 L20.5 321 L24.5 321 L24.5 317.5M606 239.5 L610.5 239.5M603 240.5 L611.5 240.5M602.5 241 L602.5 243M611.5 240.5 L611.5 246M603.5 242.5 L610.5 242.5M601.5 243 L601.5 245.5M604 244.5 L609.5 244.5M606.5 241 L606.5 246M603.5 245 L603.5 256M606.5 246.5 L610.5 246.5M603.5 249.5 L610.5 249.5M610.5 249.5 L606 252 L604.5 255.5M606.5 251 L610 254.5 L612 256.5M602.5 251 L600.5 256.5M605.5 267.5 L601.5 267.5 L601.5 274 L605.5 274M605.5 268 L605.5 277 L603 281M611 267.5 L607.5 267.5 L607.5 273 L611.5 274 L611.5 279 L610.5 280.5 L607.5 281M601.5 293.5 L611 293.5M605 293.5 L603.5 305M603 299 L609.5 299 L609.5 305M600.5 305.5 L611.5 305.5M82.5 489 L82.5 501.5M79 496.5 L83.5 496.5M79 503.5 L83.5 500M84 492.5 L89.5 492.5 L89.5 500.5 L84 500.5 L84 492.5M84 496.5 L89.5 496.5M87.5 488 L87.5 506.5M93.5 490.5 L96 490.5 L97 493 L96 497 L93.5 497 L92.5 493 L93.5 490.5M93.5 497 L92 500 L93.5 504.5 L95.5 504.5 L97 500 L96 497M101.5 490.5 L98.5 497 L98.5 502 L100.5 504.5 L102.5 502 L102.5 498 L100.5 496.5 L98.5 497.5M106.5 490.5 L106.5 504.5M106.5 490.5 L114.5 490.5 L114.5 504.5M106.5 504.5 L114.5 504.5M108.5 491.5 L108.5 495.5 L107 500.5M111.5 491.5 L111.5 499.5 L114 500M288.5 487.5 L285.5 494M287 490.5 L294 490.5M284 496.5 L295 496M289.5 491 L289.5 504.5M302.5 488.5 L302.5 503.5M297.5 494 L297.5 503.5 L306.5 503M306.5 494 L306.5 504.5M312 489.5 L310.5 495 L310.5 502 L312 503.5 L314 502 L314 496.5 L312 495.5 L310.5 497M318 489.5 L320 490.5 L320.5 492.5 L319 496 L317 494 L316.5 491.5 L318 489.5M319 496 L321 499 L320.5 502.5 L318.5 503.5 L316.5 501.5 L316.5 498.5 L319 496M324.5 492.5 L331.5 491.5M322.5 501.5 L334 500M518.5 488.5 L521.5 488.5 L521.5 492.5 L518.5 492.5M518.5 488.5 L518.5 494.5 L522 494.5M523.5 488.5 L526.5 488.5 L526.5 492.5 L523.5 492.5M523.5 488.5 L523.5 494.5 L527 494.5M520 495 L520 500.5M524.5 495 L524.5 500.5M518.5 497.5 L526.5 497.5M516 500.5 L526.5 500.5M519 502 L517 505.5M522.5 502 L525.5 505M529.5 491.5 L531.5 489.5 L531.5 503.5M535.5 492 L533.5 500.5 L539 500.5M537.5 489.5 L537.5 503.5M545.5 488 L545.5 492M540 494 L552 493M544 497.5 L540.5 504.5M547.5 497.5 L551 503.5M174.5 105 L174 117M172.5 110.5 L172.5 112.5M176.5 110 L175.5 112.5M174 117 L171 122.5M174.5 116 L176.5 118.5M179.5 107 L179.5 120.5M177.5 113.5 L182 113.5M175 121.5 L179 121.5 L179 120.5 L183 120.5M189.5 105 L189.5 106.5M187.5 105.5 L187.5 107.5M187.5 106.5 L193.5 106.5M193.5 105.5 L193.5 110.5M188 107.5 L193.5 107.5M190 110.5 L193.5 110.5M186.5 109 L186.5 117.5M187 111.5 L189.5 111.5M187 113.5 L195 113.5M189.5 112 L190.5 115.5M189 116.5 L193.5 116.5M193 116.5 L191 122M189.5 117.5 L185.5 122.5M186 118 L184.5 121.5M189.5 119.5 L191 122.5M370 78.5 L374 78.5M371.5 76.5 L370 85.5M374.5 76.5 L378 76.5 L375 81 L379.5 84M372 81 L374 83M376 79 L373 85M370 89 L374.5 86 L379 89M372 89.5 L377 89.5 L377 94 L372 94 L372 89.5M372 91.5 L377 91.5M372 94.5 L374.5 92.5 L379 94.5M371.5 103.5 L380 103.5M371.5 103.5 L371.5 114 L369.5 121M372.5 107.5 L380 107.5M376.5 107.5 L376.5 120.5 L374.5 119M475 107 L483.5 106.5 L483.5 115.5 L482 116.5M479.5 107.5 L479.5 119.5M480.5 113 L481.5 115.5M474 120 L486 119.5M490 107 L487.5 115.5M492.5 104 L492.5 120.5M489.5 111.5 L496.5 111.5M488.5 115.5 L496.5 115.5M487 121 L498.5 120.5M501.5 105 L502 107M501.5 107.5 L501.5 121.5M503 106.5 L510 106M510 106 L510 121.5 L508 119.5M504 111 L507 110.5 L507 117.5 L504 117.5 L504 111M504 114.5 L507 114.5M480.5 228 L480.5 242.5 L479.5 245.5M485.5 229.5 L482 233M477 237.5 L480.5 237.5M483 235.5 L488 235.5M481.5 238 L484.5 241.5 L488 243.5M495.5 228 L493.5 234.5 L496.5 239 L499.5 245.5M490 235.5 L501 234.5M498 235.5 L496.5 239.5 L491.5 245.5M507.5 228 L507.5 229.5M505.5 228.5 L505.5 230.5M505.5 229.5 L511.5 229.5M511.5 228.5 L511.5 233.5M506 230.5 L511.5 230.5M508 233.5 L511.5 233.5M504.5 232 L504.5 240.5M505 234.5 L507.5 234.5M505 236.5 L513 236.5M507.5 235 L508.5 238.5M507 239.5 L511.5 239.5M511 239.5 L509 245M507.5 240.5 L503.5 245.5M504 241 L502.5 244.5M507.5 242.5 L509 245.5M114.5 298.5 L115 300.5M111.5 304.5 L120 303.5M115.5 301 L115.5 314M111.5 309 L118.5 309M109.5 314.5 L120.5 314M128.5 298.5 L127 304.5 L122.5 315M127.5 305.5 L131 313.5 L133.5 314.5M140.5 298 L140.5 299.5M138.5 298.5 L138.5 300.5M138.5 299.5 L144.5 299.5M144.5 298.5 L144.5 303.5M139 300.5 L144.5 300.5M141 303.5 L144.5 303.5M137.5 302 L137.5 310.5M138 304.5 L140.5 304.5M138 306.5 L146 306.5M140.5 305 L141.5 308.5M140 309.5 L144.5 309.5M144 309.5 L142 315M140.5 310.5 L136.5 315.5M137 311 L135.5 314.5M140.5 312.5 L142 315.5M308.5 347 L310 348.5M305.5 349 L305.5 351.5M305.5 349.5 L314.5 349.5 L314 352.5M307 352 L312 355M310 352.5 L303.5 361M309.5 357 L314.5 359.5M307.5 360 L311.5 360 L311.5 364 L307.5 364.5 L307.5 360M319.5 347.5 L327.5 347.5M319.5 347.5 L319.5 355.5 L317.5 364.5M321 352.5 L327.5 352.5M324.5 352.5 L324.5 364.5M321 361 L324 364M485.5 433 L485.5 446M485.5 434.5 L491.5 434.5M488.5 434.5 L488.5 444.5M491.5 433.5 L491.5 444.5M488.5 439.5 L491.5 439.5M488.5 444.5 L491.5 444.5M486.5 435 L486.5 438.5M486.5 441 L486.5 443.5M498.5 433 L496.5 436.5 L494.5 438M497.5 435 L501.5 440.5M494 439.5 L496.5 439.5M495.5 438 L495.5 445.5M495.5 440.5 L499.5 440.5 L499.5 444.5 L496.5 444.5" stroke="#00ff00" fill="none" stroke-linejoin="miter"/>
<path d="M319 53v10h1V53zM320 63v20h1V63zM321 83v19h1V83zM322 102v19h1V102zM323 121v20h1V121zM324 141v19h1V141zM325 160v19h1V160zM326 179v20h1V179zM327 199v19h1V199zM328 218v19h1V218zM329 237v20h1V237zM330 257v10h1V257z" fill="#0000ff" stroke="none"/>
<path d="M330 264v3h1V264zM331 259v5h1V259zM332 255v4h1V255zM333 250v5h1V250zM334 245v5h1V245zM335 240v5h1V240zM336 236v4h1V236zM337 231v5h1V231zM338 226v5h1V226zM339 222v4h1V222zM340 217v5h1V217zM341 212v5h1V212zM342 207v5h1V207zM343 203v4h1V203zM344 198v5h1V198zM345 193v5h1V193zM346 188v5h1V188zM347 184v4h1V184zM348 179v5h1V179zM349 174v5h1V174zM350 169v5h1V169zM351 165v4h1V165zM352 160v5h1V160zM353 155v5h1V155zM354 151v4h1V151zM355 146v5h1V146zM356 141v5h1V141zM357 136v5h1V136zM358 132v4h1V132zM359 127v5h1V127zM360 122v5h1V122zM361 117v5h1V117zM362 113v4h1V113zM363 108v5h1V108zM364 103v5h1V103zM365 98v5h1V98zM366 94v4h1V94zM367 89v5h1V89zM368 84v5h1V84zM369 80v4h1V80zM370 75v5h1V75zM371 70v5h1V70zM372 65v5h1V65zM373 61v4h1V61zM374 56v5h1V56zM375 53v3h1V53z" fill="#0000ff" stroke="none"/>
<path d="M330 266v1h1V266zM331 265v1h1V265zM332 264v1h1V264zM333 263v1h1V263zM334 261v2h1V261zM335 260v1h1V260zM336 259v1h1V259zM337 258v1h1V258zM338 257v1h1V257zM339 256v1h1V256zM340 255v1h1V255zM341 254v1h1V254zM342 253v1h1V253zM343 251v2h1V251zM344 250v1h1V250zM345 249v1h1V249zM346 248v1h1V248zM347 247v1h1V247zM348 246v1h1V246zM349 245v1h1V245zM350 244v1h1V244zM351 243v1h1V243zM352 241v2h1V241zM353 240v1h1V240zM354 239v1h1V239zM355 238v1h1V238zM356 237v1h1V237zM357 236v1h1V236zM358 235v1h1V235zM359 234v1h1V234zM360 232v2h1V232zM361 231v1h1V231zM362 230v1h1V230zM363 229v1h1V229zM364 228v1h1V228zM365 227v1h1V227zM366 226v1h1V226zM367 225v1h1V225zM368 224v1h1V224zM369 222v2h1V222zM370 221v1h1V221zM371 220v1h1V220zM372 219v1h1V219zM373 218v1h1V218zM374 217v1h1V217zM375 216v1h1V216zM376 215v1h1V215zM377 214v1h1V214zM378 212v2h1V212zM379 211v1h1V211zM380 210v1h1V210zM381 209v1h1V209zM382 208v1h1V208zM383 207v1h1V207zM384 206v1h1V206zM385 205v1h1V205zM386 203v2h1V203zM387 202v1h1V202zM388 201v1h1V201zM389 200v1h1V200zM390 199v1h1V199zM391 198v1h1V198zM392 197v1h1V197zM393 196v1h1V196zM394 195v1h1V195zM395 193v2h1V193zM396 192v1h1V192zM397 191v1h1V191zM398 190v1h1V190zM399 189v1h1V189zM400 188v1h1V188zM401 187v1h1V187zM402 186v1h1V186zM403 185v1h1V185zM404 183v2h1V183zM405 182v1h1V182zM406 181v1h1V181zM407 180v1h1V180zM408 179v1h1V179zM409 178v1h1V178zM410 177v1h1V177zM411 176v1h1V176zM412 174v2h1V174zM413 173v1h1V173zM414 172v1h1V172zM415 171v1h1V171zM416 170v1h1V170zM417 169v1h1V169zM418 168v1h1V168zM419 167v1h1V167zM420 166v1h1V166zM421 164v2h1V164zM422 163v1h1V163zM423 162v1h1V162zM424 161v1h1V161zM425 160v1h1V160zM426 159v1h1V159zM427 158v1h1V158zM428 157v1h1V157zM429 156v1h1V156zM430 154v2h1V154zM431 153v1h1V153zM432 152v1h1V152zM433 151v1h1V151zM434 150v1h1V150zM435 149v1h1V149zM436 148v1h1V148zM437 147v1h1V147zM438 146v1h1V146zM439 144v2h1V144zM440 143v1h1V143zM441 142v1h1V142zM442 141v1h1V141zM443 140v1h1V140zM444 139v1h1V139zM445 138v1h1V138zM446 137v1h1V137zM447 135v2h1V135zM448 134v1h1V134zM449 133v1h1V133zM450 132v1h1V132zM451 131v1h1V131zM452 130v1h1V130zM453 129v1h1V129zM454 128v1h1V128zM455 127v1h1V127zM456 125v2h1V125zM457 124v1h1V124zM458 123v1h1V123zM459 122v1h1V122zM460 121v1h1V121zM461 120v1h1V120zM462 119v1h1V119zM463 118v1h1V118zM464 117v1h1V117zM465 115v2h1V115zM466 114v1h1V114zM467 113v1h1V113zM468 112v1h1V112zM469 111v1h1V111zM470 110v1h1V110zM471 109v1h1V109zM472 108v1h1V108zM473 106v2h1V106zM474 105v1h1V105zM475 104v1h1V104zM476 103v1h1V103zM477 102v1h1V102zM478 101v1h1V101zM479 100v1h1V100zM480 99v1h1V99zM481 98v1h1V98zM482 96v2h1V96zM483 95v1h1V95zM484 94v1h1V94zM485 93v1h1V93zM486 92v1h1V92zM487 91v1h1V91zM488 90v1h1V90zM489 89v1h1V89zM490 88v1h1V88zM491 86v2h1V86zM492 85v1h1V85zM493 84v1h1V84zM494 83v1h1V83zM495 82v1h1V82zM496 81v1h1V81zM497 80v1h1V80zM498 79v1h1V79zM499 77v2h1V77zM500 76v1h1V76zM501 75v1h1V75zM502 74v1h1V74zM503 73v1h1V73zM504 72v1h1V72zM505 71v1h1V71zM506 70v1h1V70zM507 69v1h1V69zM508 67v2h1V67zM509 66v1h1V66zM510 65v1h1V65zM511 64v1h1V64zM512 63v1h1V63zM513 62v1h1V62zM514 61v1h1V61zM515 60v1h1V60zM516 59v1h1V59zM517 57v2h1V57zM518 56v1h1V56zM519 55v1h1V55zM520 54v1h1V54zM521 53v1h1V53z" fill="#0000ff" stroke="none"/>
<path d="M572 109h1v1H572zM570 110h2v1H570zM569 111h1v1H569zM567 112h2v1H567zM566 113h1v1H566zM564 114h2v1H564zM562 115h2v1H562zM561 116h1v1H561zM559 117h2v1H559zM558 118h1v1H558zM556 119h2v1H556zM555 120h1v1H555zM553 121h2v1H553zM552 122h1v1H552zM550 123h2v1H550zM549 124h1v1H549zM547 125h2v1H547zM546 126h1v1H546zM544 127h2v1H544zM542 128h2v1H542zM541 129h1v1H541zM539 130h2v1H539zM538 131h1v1H538zM536 132h2v1H536zM535 133h1v1H535zM533 134h2v1H533zM532 135h1v1H532zM530 136h2v1H530zM529 137h1v1H529zM527 138h2v1H527zM525 139h2v1H525zM524 140h1v1H524zM522 141h2v1H522zM521 142h1v1H521zM519 143h2v1H519zM518 144h1v1H518zM516 145h2v1H516zM515 146h1v1H515zM513 147h2v1H513zM512 148h1v1H512zM510 149h2v1H510zM509 150h1v1H509zM507 151h2v1H507zM505 152h2v1H505zM504 153h1v1H504zM502 154h2v1H502zM501 155h1v1H501zM499 156h2v1H499zM498 157h1v1H498zM496 158h2v1H496zM495 159h1v1H495zM493 160h2v1H493zM492 161h1v1H492zM490 162h2v1H490zM488 163h2v1H488zM487 164h1v1H487zM485 165h2v1H485zM484 166h1v1H484zM482 167h2v1H482zM481 168h1v1H481zM479 169h2v1H479zM478 170h1v1H478zM476 171h2v1H476zM475 172h1v1H475zM473 173h2v1H473zM472 174h1v1H472zM470 175h2v1H470zM468 176h2v1H468zM467 177h1v1H467zM465 178h2v1H465zM464 179h1v1H464zM462 180h2v1H462zM461 181h1v1H461zM459 182h2v1H459zM458 183h1v1H458zM456 184h2v1H456zM455 185h1v1H455zM453 186h2v1H453zM452 187h1v1H452zM450 188h2v1H450zM448 189h2v1H448zM447 190h1v1H447zM445 191h2v1H445zM444 192h1v1H444zM442 193h2v1H442zM441 194h1v1H441zM439 195h2v1H439zM438 196h1v1H438zM436 197h2v1H436zM435 198h1v1H435zM433 199h2v1H433zM431 200h2v1H431zM430 201h1v1H430zM428 202h2v1H428zM427 203h1v1H427zM425 204h2v1H425zM424 205h1v1H424zM422 206h2v1H422zM421 207h1v1H421zM419 208h2v1H419zM418 209h1v1H418zM416 210h2v1H416zM415 211h1v1H415zM413 212h2v1H413zM411 213h2v1H411zM410 214h1v1H410zM408 215h2v1H408zM407 216h1v1H407zM405 217h2v1H405zM404 218h1v1H404zM402 219h2v1H402zM401 220h1v1H401zM399 221h2v1H399zM398 222h1v1H398zM396 223h2v1H396zM394 224h2v1H394zM393 225h1v1H393zM391 226h2v1H391zM390 227h1v1H390zM388 228h2v1H388zM387 229h1v1H387zM385 230h2v1H385zM384 231h1v1H384zM382 232h2v1H382zM381 233h1v1H381zM379 234h2v1H379zM378 235h1v1H378zM376 236h2v1H376zM374 237h2v1H374zM373 238h1v1H373zM371 239h2v1H371zM370 240h1v1H370zM368 241h2v1H368zM367 242h1v1H367zM365 243h2v1H365zM364 244h1v1H364zM362 245h2v1H362zM361 246h1v1H361zM359 247h2v1H359zM357 248h2v1H357zM356 249h1v1H356zM354 250h2v1H354zM353 251h1v1H353zM351 252h2v1H351zM350 253h1v1H350zM348 254h2v1H348zM347 255h1v1H347zM345 256h2v1H345zM344 257h1v1H344zM342 258h2v1H342zM341 259h1v1H341zM339 260h2v1H339zM337 261h2v1H337zM336 262h1v1H336zM334 263h2v1H334zM333 264h1v1H333zM331 265h2v1H331zM330 266h1v1H330z" fill="#0000ff" stroke="none"/>
<path d="M562 254h11v1H562zM542 255h20v1H542zM522 256h20v1H522zM502 257h20v1H502zM482 258h20v1H482zM462 259h20v1H462zM441 260h21v1H441zM421 261h20v1H421zM401 262h20v1H401zM381 263h20v1H381zM361 264h20v1H361zM341 265h20v1H341zM330 266h11v1H330z" fill="#0000ff" stroke="none"/>
<path d="M330 266h3v1H330zM333 267h4v1H333zM337 268h5v1H337zM342 269h5v1H342zM347 270h4v1H347zM351 271h5v1H351zM356 272h5v1H356zM361 273h4v1H361zM365 274h5v1H365zM370 275h5v1H370zM375 276h4v1H375zM379 277h5v1H379zM384 278h5v1H384zM389 279h4v1H389zM393 280h5v1H393zM398 281h5v1H398zM403 282h4v1H403zM407 283h5v1H407zM412 284h5v1H412zM417 285h4v1H417zM421 286h5v1H421zM426 287h5v1H426zM431 288h4v1H431zM435 289h5v1H435zM440 290h5v1H440zM445 291h4v1H445zM449 292h5v1H449zM454 293h4v1H454zM458 294h5v1H458zM463 295h5v1H463zM468 296h4v1H468zM472 297h5v1H472zM477 298h5v1H477zM482 299h4v1H482zM486 300h5v1H486zM491 301h5v1H491zM496 302h4v1H496zM500 303h5v1H500zM505 304h5v1H505zM510 305h4v1H510zM514 306h5v1H514zM519 307h5v1H519zM524 308h4v1H524zM528 309h5v1H528zM533 310h5v1H533zM538 311h4v1H538zM542 312h5v1H542zM547 313h5v1H547zM552 314h4v1H552zM556 315h5v1H556zM561 316h5v1H561zM566 317h4v1H566zM570 318h3v1H570z" fill="#0000ff" stroke="none"/>
<path d="M330 266h1v1H330zM331 267h1v1H331zM332 268h1v1H332zM333 269h1v1H333zM334 270h1v1H334zM335 271h2v1H335zM337 272h1v1H337zM338 273h1v1H338zM339 274h1v1H339zM340 275h1v1H340zM341 276h1v1H341zM342 277h1v1H342zM343 278h1v1H343zM344 279h1v1H344zM345 280h2v1H345zM347 281h1v1H347zM348 282h1v1H348zM349 283h1v1H349zM350 284h1v1H350zM351 285h1v1H351zM352 286h1v1H352zM353 287h1v1H353zM354 288h1v1H354zM355 289h2v1H355zM357 290h1v1H357zM358 291h1v1H358zM359 292h1v1H359zM360 293h1v1H360zM361 294h1v1H361zM362 295h1v1H362zM363 296h1v1H363zM364 297h1v1H364zM365 298h2v1H365zM367 299h1v1H367zM368 300h1v1H368zM369 301h1v1H369zM370 302h1v1H370zM371 303h1v1H371zM372 304h1v1H372zM373 305h1v1H373zM374 306h1v1H374zM375 307h2v1H375zM377 308h1v1H377zM378 309h1v1H378zM379 310h1v1H379zM380 311h1v1H380zM381 312h1v1H381zM382 313h1v1H382zM383 314h1v1H383zM384 315h1v1H384zM385 316h2v1H385zM387 317h1v1H387zM388 318h1v1H388zM389 319h1v1H389zM390 320h1v1H390zM391 321h1v1H391zM392 322h1v1H392zM393 323h1v1H393zM394 324h1v1H394zM395 325h2v1H395zM397 326h1v1H397zM398 327h1v1H398zM399 328h1v1H399zM400 329h1v1H400zM401 330h1v1H401zM402 331h1v1H402zM403 332h1v1H403zM404 333h1v1H404zM405 334h2v1H405zM407 335h1v1H407zM408 336h1v1H408zM409 337h1v1H409zM410 338h1v1H410zM411 339h1v1H411zM412 340h1v1H412zM413 341h1v1H413zM414 342h1v1H414zM415 343h2v1H415zM417 344h1v1H417zM418 345h1v1H418zM419 346h1v1H419zM420 347h1v1H420zM421 348h1v1H421zM422 349h1v1H422zM423 350h1v1H423zM424 351h1v1H424zM425 352h2v1H425zM427 353h1v1H427zM428 354h1v1H428zM429 355h1v1H429zM430 356h1v1H430zM431 357h1v1H431zM432 358h1v1H432zM433 359h1v1H433zM434 360h1v1H434zM435 361h2v1H435zM437 362h1v1H437zM438 363h1v1H438zM439 364h1v1H439zM440 365h1v1H440zM441 366h1v1H441zM442 367h1v1H442zM443 368h1v1H443zM444 369h1v1H444zM445 370h2v1H445zM447 371h1v1H447zM448 372h1v1H448zM449 373h1v1H449zM450 374h1v1H450zM451 375h1v1H451zM452 376h1v1H452zM453 377h1v1H453zM454 378h1v1H454zM455 379h2v1H455zM457 380h1v1H457zM458 381h1v1H458zM459 382h1v1H459zM460 383h1v1H460zM461 384h1v1H461zM462 385h1v1H462zM463 386h1v1H463zM464 387h1v1H464zM465 388h2v1H465zM467 389h1v1H467zM468 390h1v1H468zM469 391h1v1H469zM470 392h1v1H470zM471 393h1v1H471zM472 394h1v1H472zM473 395h1v1H473zM474 396h1v1H474zM475 397h2v1H475zM477 398h1v1H477zM478 399h1v1H478zM479 400h1v1H479zM480 401h1v1H480zM481 402h1v1H481zM482 403h1v1H482zM483 404h1v1H483zM484 405h1v1H484zM485 406h2v1H485zM487 407h1v1H487zM488 408h1v1H488zM489 409h1v1H489zM490 410h1v1H490zM491 411h1v1H491zM492 412h1v1H492zM493 413h1v1H493zM494 414h1v1H494zM495 415h2v1H495zM497 416h1v1H497zM498 417h1v1H498zM499 418h1v1H499zM500 419h1v1H500zM501 420h1v1H501zM502 421h1v1H502zM503 422h1v1H503zM504 423h1v1H504zM505 424h2v1H505zM507 425h1v1H507zM508 426h1v1H508zM509 427h1v1H509zM510 428h1v1H510zM511 429h1v1H511zM512 430h1v1H512zM513 431h1v1H513zM514 432h1v1H514zM515 433h2v1H515zM517 434h1v1H517zM518 435h1v1H518zM519 436h1v1H519zM520 437h1v1H520zM521 438h1v1H521zM522 439h1v1H522zM523 440h1v1H523zM524 441h1v1H524zM525 442h2v1H525zM527 443h1v1H527zM528 444h1v1H528zM529 445h1v1H529zM530 446h1v1H530zM531 447h1v1H531zM532 448h1v1H532zM533 449h1v1H533zM534 450h1v1H534zM535 451h2v1H535zM537 452h1v1H537zM538 453h1v1H538zM539 454h1v1H539zM540 455h1v1H540zM541 456h1v1H541zM542 457h1v1H542zM543 458h1v1H543zM544 459h1v1H544zM545 460h2v1H545zM547 461h1v1H547zM548 462h1v1H548zM549 463h1v1H549zM550 464h1v1H550zM551 465h1v1H551z" fill="#0000ff" stroke="none"/>
<path d="M330 266v1h1V266zM331 267v2h1V267zM332 269v1h1V269zM333 270v2h1V270zM334 272v1h1V272zM335 273v2h1V273zM336 275v2h1V275zM337 277v1h1V277zM338 278v2h1V278zM339 280v1h1V280zM340 281v2h1V281zM341 283v1h1V283zM342 284v2h1V284zM343 286v1h1V286zM344 287v2h1V287zM345 289v1h1V289zM346 290v2h1V290zM347 292v1h1V292zM348 293v2h1V293zM349 295v2h1V295zM350 297v1h1V297zM351 298v2h1V298zM352 300v1h1V300zM353 301v2h1V301zM354 303v1h1V303zM355 304v2h1V304zM356 306v1h1V306zM357 307v2h1V307zM358 309v1h1V309zM359 310v2h1V310zM360 312v2h1V312zM361 314v1h1V314zM362 315v2h1V315zM363 317v1h1V317zM364 318v2h1V318zM365 320v1h1V320zM366 321v2h1V321zM367 323v1h1V323zM368 324v2h1V324zM369 326v1h1V326zM370 327v2h1V327zM371 329v2h1V329zM372 331v1h1V331zM373 332v2h1V332zM374 334v1h1V334zM375 335v2h1V335zM376 337v1h1V337zM377 338v2h1V338zM378 340v1h1V340zM379 341v2h1V341zM380 343v1h1V343zM381 344v2h1V344zM382 346v1h1V346zM383 347v2h1V347zM384 349v2h1V349zM385 351v1h1V351zM386 352v2h1V352zM387 354v1h1V354zM388 355v2h1V355zM389 357v1h1V357zM390 358v2h1V358zM391 360v1h1V360zM392 361v2h1V361zM393 363v1h1V363zM394 364v2h1V364zM395 366v2h1V366zM396 368v1h1V368zM397 369v2h1V369zM398 371v1h1V371zM399 372v2h1V372zM400 374v1h1V374zM401 375v2h1V375zM402 377v1h1V377zM403 378v2h1V378zM404 380v1h1V380zM405 381v2h1V381zM406 383v2h1V383zM407 385v1h1V385zM408 386v2h1V386zM409 388v1h1V388zM410 389v2h1V389zM411 391v1h1V391zM412 392v2h1V392zM413 394v1h1V394zM414 395v2h1V395zM415 397v1h1V397zM416 398v2h1V398zM417 400v1h1V400zM418 401v2h1V401zM419 403v2h1V403zM420 405v1h1V405zM421 406v2h1V406zM422 408v1h1V408zM423 409v2h1V409zM424 411v1h1V411zM425 412v2h1V412zM426 414v1h1V414zM427 415v2h1V415zM428 417v1h1V417zM429 418v2h1V418zM430 420v2h1V420zM431 422v1h1V422zM432 423v2h1V423zM433 425v1h1V425zM434 426v2h1V426zM435 428v1h1V428zM436 429v2h1V429zM437 431v1h1V431zM438 432v2h1V432zM439 434v1h1V434zM440 435v2h1V435zM441 437v2h1V437zM442 439v1h1V439zM443 440v2h1V440zM444 442v1h1V442zM445 443v2h1V443zM446 445v1h1V445zM447 446v2h1V446zM448 448v1h1V448zM449 449v2h1V449zM450 451v1h1V451zM451 452v2h1V452zM452 454v1h1V454zM453 455v2h1V455zM454 457v2h1V457zM455 459v1h1V459zM456 460v2h1V460zM457 462v1h1V462zM458 463v2h1V463zM459 465v1h1V465z" fill="#0000ff" stroke="none"/>
<path d="M330 266v10h1V266zM331 276v20h1V276zM332 296v20h1V296zM333 316v20h1V316zM334 336v20h1V336zM335 356v20h1V356zM336 376v20h1V376zM337 396v20h1V396zM338 416v20h1V416zM339 436v20h1V436zM340 456v10h1V456z" fill="#0000ff" stroke="none"/>
<path d="M287 463v3h1V463zM288 459v4h1V459zM289 454v5h1V454zM290 449v5h1V449zM291 445v4h1V445zM292 440v5h1V440zM293 435v5h1V435zM294 431v4h1V431zM295 426v5h1V426zM296 422v4h1V422zM297 417v5h1V417zM298 412v5h1V412zM299 408v4h1V408zM300 403v5h1V403zM301 398v5h1V398zM302 394v4h1V394zM303 389v5h1V389zM304 385v4h1V385zM305 380v5h1V380zM306 375v5h1V375zM307 371v4h1V371zM308 366v5h1V366zM309 361v5h1V361zM310 357v4h1V357zM311 352v5h1V352zM312 347v5h1V347zM313 343v4h1V343zM314 338v5h1V338zM315 334v4h1V334zM316 329v5h1V329zM317 324v5h1V324zM318 320v4h1V320zM319 315v5h1V315zM320 310v5h1V310zM321 306v4h1V306zM322 301v5h1V301zM323 297v4h1V297zM324 292v5h1V292zM325 287v5h1V287zM326 283v4h1V283zM327 278v5h1V278zM328 273v5h1V273zM329 269v4h1V269zM330 266v3h1V266z" fill="#0000ff" stroke="none"/>
<path d="M151 465v1h1V465zM152 464v1h1V464zM153 463v1h1V463zM154 462v1h1V462zM155 460v2h1V460zM156 459v1h1V459zM157 458v1h1V458zM158 457v1h1V457zM159 456v1h1V456zM160 455v1h1V455zM161 454v1h1V454zM162 453v1h1V453zM163 452v1h1V452zM164 450v2h1V450zM165 449v1h1V449zM166 448v1h1V448zM167 447v1h1V447zM168 446v1h1V446zM169 445v1h1V445zM170 444v1h1V444zM171 443v1h1V443zM172 442v1h1V442zM173 440v2h1V440zM174 439v1h1V439zM175 438v1h1V438zM176 437v1h1V437zM177 436v1h1V436zM178 435v1h1V435zM179 434v1h1V434zM180 433v1h1V433zM181 432v1h1V432zM182 430v2h1V430zM183 429v1h1V429zM184 428v1h1V428zM185 427v1h1V427zM186 426v1h1V426zM187 425v1h1V425zM188 424v1h1V424zM189 423v1h1V423zM190 422v1h1V422zM191 420v2h1V420zM192 419v1h1V419zM193 418v1h1V418zM194 417v1h1V417zM195 416v1h1V416zM196 415v1h1V415zM197 414v1h1V414zM198 413v1h1V413zM199 412v1h1V412zM200 410v2h1V410zM201 409v1h1V409zM202 408v1h1V408zM203 407v1h1V407zM204 406v1h1V406zM205 405v1h1V405zM206 404v1h1V404zM207 403v1h1V403zM208 402v1h1V402zM209 400v2h1V400zM210 399v1h1V399zM211 398v1h1V398zM212 397v1h1V397zM213 396v1h1V396zM214 395v1h1V395zM215 394v1h1V394zM216 393v1h1V393zM217 392v1h1V392zM218 390v2h1V390zM219 389v1h1V389zM220 388v1h1V388zM221 387v1h1V387zM222 386v1h1V386zM223 385v1h1V385zM224 384v1h1V384zM225 383v1h1V383zM226 382v1h1V382zM227 380v2h1V380zM228 379v1h1V379zM229 378v1h1V378zM230 377v1h1V377zM231 376v1h1V376zM232 375v1h1V375zM233 374v1h1V374zM234 373v1h1V373zM235 372v1h1V372zM236 370v2h1V370zM237 369v1h1V369zM238 368v1h1V368zM239 367v1h1V367zM240 366v1h1V366zM241 365v1h1V365zM242 364v1h1V364zM243 363v1h1V363zM244 362v1h1V362zM245 360v2h1V360zM246 359v1h1V359zM247 358v1h1V358zM248 357v1h1V357zM249 356v1h1V356zM250 355v1h1V355zM251 354v1h1V354zM252 353v1h1V353zM253 352v1h1V352zM254 350v2h1V350zM255 349v1h1V349zM256 348v1h1V348zM257 347v1h1V347zM258 346v1h1V346zM259 345v1h1V345zM260 344v1h1V344zM261 343v1h1V343zM262 342v1h1V342zM263 340v2h1V340zM264 339v1h1V339zM265 338v1h1V338zM266 337v1h1V337zM267 336v1h1V336zM268 335v1h1V335zM269 334v1h1V334zM270 333v1h1V333zM271 332v1h1V332zM272 330v2h1V330zM273 329v1h1V329zM274 328v1h1V328zM275 327v1h1V327zM276 326v1h1V326zM277 325v1h1V325zM278 324v1h1V324zM279 323v1h1V323zM280 322v1h1V322zM281 320v2h1V320zM282 319v1h1V319zM283 318v1h1V318zM284 317v1h1V317zM285 316v1h1V316zM286 315v1h1V315zM287 314v1h1V314zM288 313v1h1V313zM289 312v1h1V312zM290 310v2h1V310zM291 309v1h1V309zM292 308v1h1V308zM293 307v1h1V307zM294 306v1h1V306zM295 305v1h1V305zM296 304v1h1V304zM297 303v1h1V303zM298 302v1h1V302zM299 300v2h1V300zM300 299v1h1V299zM301 298v1h1V298zM302 297v1h1V297zM303 296v1h1V296zM304 295v1h1V295zM305 294v1h1V294zM306 293v1h1V293zM307 292v1h1V292zM308 290v2h1V290zM309 289v1h1V289zM310 288v1h1V288zM311 287v1h1V287zM312 286v1h1V286zM313 285v1h1V285zM314 284v1h1V284zM315 283v1h1V283zM316 282v1h1V282zM317 280v2h1V280zM318 279v1h1V279zM319 278v1h1V278zM320 277v1h1V277zM321 276v1h1V276zM322 275v1h1V275zM323 274v1h1V274zM324 273v1h1V273zM325 272v1h1V272zM326 270v2h1V270zM327 269v1h1V269zM328 268v1h1V268zM329 267v1h1V267zM330 266v1h1V266z" fill="#0000ff" stroke="none"/>
<path d="M330 266h1v1H330zM328 267h2v1H328zM327 268h1v1H327zM325 269h2v1H325zM324 270h1v1H324zM322 271h2v1H322zM320 272h2v1H320zM319 273h1v1H319zM317 274h2v1H317zM316 275h1v1H316zM314 276h2v1H314zM313 277h1v1H313zM311 278h2v1H311zM310 279h1v1H310zM308 280h2v1H308zM307 281h1v1H307zM305 282h2v1H305zM304 283h1v1H304zM302 284h2v1H302zM300 285h2v1H300zM299 286h1v1H299zM297 287h2v1H297zM296 288h1v1H296zM294 289h2v1H294zM293 290h1v1H293zM291 291h2v1H291zM290 292h1v1H290zM288 293h2v1H288zM287 294h1v1H287zM285 295h2v1H285zM284 296h1v1H284zM282 297h2v1H282zM280 298h2v1H280zM279 299h1v1H279zM277 300h2v1H277zM276 301h1v1H276zM274 302h2v1H274zM273 303h1v1H273zM271 304h2v1H271zM270 305h1v1H270zM268 306h2v1H268zM267 307h1v1H267zM265 308h2v1H265zM264 309h1v1H264zM262 310h2v1H262zM260 311h2v1H260zM259 312h1v1H259zM257 313h2v1H257zM256 314h1v1H256zM254 315h2v1H254zM253 316h1v1H253zM251 317h2v1H251zM250 318h1v1H250zM248 319h2v1H248zM247 320h1v1H247zM245 321h2v1H245zM244 322h1v1H244zM242 323h2v1H242zM240 324h2v1H240zM239 325h1v1H239zM237 326h2v1H237zM236 327h1v1H236zM234 328h2v1H234zM233 329h1v1H233zM231 330h2v1H231zM230 331h1v1H230zM228 332h2v1H228zM227 333h1v1H227zM225 334h2v1H225zM224 335h1v1H224zM222 336h2v1H222zM220 337h2v1H220zM219 338h1v1H219zM217 339h2v1H217zM216 340h1v1H216zM214 341h2v1H214zM213 342h1v1H213zM211 343h2v1H211zM210 344h1v1H210zM208 345h2v1H208zM207 346h1v1H207zM205 347h2v1H205zM204 348h1v1H204zM202 349h2v1H202zM200 350h2v1H200zM199 351h1v1H199zM197 352h2v1H197zM196 353h1v1H196zM194 354h2v1H194zM193 355h1v1H193zM191 356h2v1H191zM190 357h1v1H190zM188 358h2v1H188zM187 359h1v1H187zM185 360h2v1H185zM184 361h1v1H184zM182 362h2v1H182zM180 363h2v1H180zM179 364h1v1H179zM177 365h2v1H177zM176 366h1v1H176zM174 367h2v1H174zM173 368h1v1H173zM171 369h2v1H171zM170 370h1v1H170zM168 371h2v1H168zM167 372h1v1H167zM165 373h2v1H165zM164 374h1v1H164zM162 375h2v1H162zM160 376h2v1H160zM159 377h1v1H159zM157 378h2v1H157zM156 379h1v1H156zM154 380h2v1H154zM153 381h1v1H153zM151 382h2v1H151zM150 383h1v1H150zM148 384h2v1H148zM147 385h1v1H147zM145 386h2v1H145zM144 387h1v1H144zM142 388h2v1H142zM140 389h2v1H140zM139 390h1v1H139zM137 391h2v1H137zM136 392h1v1H136zM134 393h2v1H134zM133 394h1v1H133zM131 395h2v1H131zM130 396h1v1H130zM128 397h2v1H128zM127 398h1v1H127zM125 399h2v1H125zM124 400h1v1H124zM122 401h2v1H122zM120 402h2v1H120zM119 403h1v1H119zM117 404h2v1H117zM116 405h1v1H116zM114 406h2v1H114zM113 407h1v1H113zM111 408h2v1H111zM110 409h1v1H110zM108 410h2v1H108zM107 411h1v1H107zM105 412h2v1H105zM104 413h1v1H104zM102 414h2v1H102zM100 415h2v1H100zM99 416h1v1H99zM97 417h2v1H97zM96 418h1v1H96zM94 419h2v1H94zM93 420h1v1H93zM91 421h2v1H91zM90 422h1v1H90zM88 423h2v1H88zM87 424h1v1H87zM85 425h2v1H85zM84 426h1v1H84zM82 427h2v1H82zM80 428h2v1H80zM79 429h1v1H79zM77 430h2v1H77zM76 431h1v1H76zM74 432h2v1H74zM73 433h1v1H73zM71 434h2v1H71zM70 435h1v1H70zM68 436h2v1H68zM67 437h1v1H67zM65 438h2v1H65zM64 439h1v1H64zM62 440h2v1H62zM60 441h2v1H60zM59 442h1v1H59zM57 443h2v1H57zM56 444h1v1H56zM54 445h2v1H54zM53 446h1v1H53z" fill="#0000ff" stroke="none"/>
<path d="M321 266h10v1H321zM303 267h18v1H303zM284 268h19v1H284zM266 269h18v1H266zM247 270h19v1H247zM229 271h18v1H229zM210 272h19v1H210zM192 273h18v1H192zM174 274h18v1H174zM155 275h19v1H155zM137 276h18v1H137zM118 277h19v1H118zM100 278h18v1H100zM81 279h19v1H81zM63 280h18v1H63zM53 281h10v1H53z" fill="#0000ff" stroke="none"/>
<path d="M123 222h3v1H123zM126 223h5v1H126zM131 224h4v1H131zM135 225h5v1H135zM140 226h5v1H140zM145 227h4v1H145zM149 228h5v1H149zM154 229h5v1H154zM159 230h4v1H159zM163 231h5v1H163zM168 232h5v1H168zM173 233h5v1H173zM178 234h4v1H178zM182 235h5v1H182zM187 236h5v1H187zM192 237h4v1H192zM196 238h5v1H196zM201 239h5v1H201zM206 240h5v1H206zM211 241h4v1H211zM215 242h5v1H215zM220 243h5v1H220zM225 244h4v1H225zM229 245h5v1H229zM234 246h5v1H234zM239 247h4v1H239zM243 248h5v1H243zM248 249h5v1H248zM253 250h5v1H253zM258 251h4v1H258zM262 252h5v1H262zM267 253h5v1H267zM272 254h4v1H272zM276 255h5v1H276zM281 256h5v1H281zM286 257h5v1H286zM291 258h4v1H291zM295 259h5v1H295zM300 260h5v1H300zM305 261h4v1H305zM309 262h5v1H309zM314 263h5v1H314zM319 264h4v1H319zM323 265h5v1H323zM328 266h3v1H328z" fill="#0000ff" stroke="none"/>
<path d="M123 80h1v1H123zM124 81h1v1H124zM125 82h1v1H125zM126 83h1v1H126zM127 84h2v1H127zM129 85h1v1H129zM130 86h1v1H130zM131 87h1v1H131zM132 88h1v1H132zM133 89h1v1H133zM134 90h1v1H134zM135 91h1v1H135zM136 92h1v1H136zM137 93h2v1H137zM139 94h1v1H139zM140 95h1v1H140zM141 96h1v1H141zM142 97h1v1H142zM143 98h1v1H143zM144 99h1v1H144zM145 100h1v1H145zM146 101h1v1H146zM147 102h2v1H147zM149 103h1v1H149zM150 104h1v1H150zM151 105h1v1H151zM152 106h1v1H152zM153 107h1v1H153zM154 108h1v1H154zM155 109h1v1H155zM156 110h1v1H156zM157 111h2v1H157zM159 112h1v1H159zM160 113h1v1H160zM161 114h1v1H161zM162 115h1v1H162zM163 116h1v1H163zM164 117h1v1H164zM165 118h1v1H165zM166 119h1v1H166zM167 120h2v1H167zM169 121h1v1H169zM170 122h1v1H170zM171 123h1v1H171zM172 124h1v1H172zM173 125h1v1H173zM174 126h1v1H174zM175 127h1v1H175zM176 128h1v1H176zM177 129h2v1H177zM179 130h1v1H179zM180 131h1v1H180zM181 132h1v1H181zM182 133h1v1H182zM183 134h1v1H183zM184 135h1v1H184zM185 136h1v1H185zM186 137h1v1H186zM187 138h2v1H187zM189 139h1v1H189zM190 140h1v1H190zM191 141h1v1H191zM192 142h1v1H192zM193 143h1v1H193zM194 144h1v1H194zM195 145h1v1H195zM196 146h2v1H196zM198 147h1v1H198zM199 148h1v1H199zM200 149h1v1H200zM201 150h1v1H201zM202 151h1v1H202zM203 152h1v1H203zM204 153h1v1H204zM205 154h1v1H205zM206 155h2v1H206zM208 156h1v1H208zM209 157h1v1H209zM210 158h1v1H210zM211 159h1v1H211zM212 160h1v1H212zM213 161h1v1H213zM214 162h1v1H214zM215 163h1v1H215zM216 164h2v1H216zM218 165h1v1H218zM219 166h1v1H219zM220 167h1v1H220zM221 168h1v1H221zM222 169h1v1H222zM223 170h1v1H223zM224 171h1v1H224zM225 172h1v1H225zM226 173h2v1H226zM228 174h1v1H228zM229 175h1v1H229zM230 176h1v1H230zM231 177h1v1H231zM232 178h1v1H232zM233 179h1v1H233zM234 180h1v1H234zM235 181h1v1H235zM236 182h2v1H236zM238 183h1v1H238zM239 184h1v1H239zM240 185h1v1H240zM241 186h1v1H241zM242 187h1v1H242zM243 188h1v1H243zM244 189h1v1H244zM245 190h1v1H245zM246 191h2v1H246zM248 192h1v1H248zM249 193h1v1H249zM250 194h1v1H250zM251 195h1v1H251zM252 196h1v1H252zM253 197h1v1H253zM254 198h1v1H254zM255 199h1v1H255zM256 200h2v1H256zM258 201h1v1H258zM259 202h1v1H259zM260 203h1v1H260zM261 204h1v1H261zM262 205h1v1H262zM263 206h1v1H263zM264 207h1v1H264zM265 208h2v1H265zM267 209h1v1H267zM268 210h1v1H268zM269 211h1v1H269zM270 212h1v1H270zM271 213h1v1H271zM272 214h1v1H272zM273 215h1v1H273zM274 216h1v1H274zM275 217h2v1H275zM277 218h1v1H277zM278 219h1v1H278zM279 220h1v1H279zM280 221h1v1H280zM281 222h1v1H281zM282 223h1v1H282zM283 224h1v1H283zM284 225h1v1H284zM285 226h2v1H285zM287 227h1v1H287zM288 228h1v1H288zM289 229h1v1H289zM290 230h1v1H290zM291 231h1v1H291zM292 232h1v1H292zM293 233h1v1H293zM294 234h1v1H294zM295 235h2v1H295zM297 236h1v1H297zM298 237h1v1H298zM299 238h1v1H299zM300 239h1v1H300zM301 240h1v1H301zM302 241h1v1H302zM303 242h1v1H303zM304 243h1v1H304zM305 244h2v1H305zM307 245h1v1H307zM308 246h1v1H308zM309 247h1v1H309zM310 248h1v1H310zM311 249h1v1H311zM312 250h1v1H312zM313 251h1v1H313zM314 252h1v1H314zM315 253h2v1H315zM317 254h1v1H317zM318 255h1v1H318zM319 256h1v1H319zM320 257h1v1H320zM321 258h1v1H321zM322 259h1v1H322zM323 260h1v1H323zM324 261h1v1H324zM325 262h2v1H325zM327 263h1v1H327zM328 264h1v1H328zM329 265h1v1H329zM330 266h1v1H330z" fill="#0000ff" stroke="none"/>
<path d="M191 53v1h1V53zM192 54v2h1V54zM193 56v1h1V56zM194 57v2h1V57zM195 59v1h1V59zM196 60v2h1V60zM197 62v1h1V62zM198 63v2h1V63zM199 65v2h1V65zM200 67v1h1V67zM201 68v2h1V68zM202 70v1h1V70zM203 71v2h1V71zM204 73v1h1V73zM205 74v2h1V74zM206 76v1h1V76zM207 77v2h1V77zM208 79v1h1V79zM209 80v2h1V80zM210 82v1h1V82zM211 83v2h1V83zM212 85v1h1V85zM213 86v2h1V86zM214 88v2h1V88zM215 90v1h1V90zM216 91v2h1V91zM217 93v1h1V93zM218 94v2h1V94zM219 96v1h1V96zM220 97v2h1V97zM221 99v1h1V99zM222 100v2h1V100zM223 102v1h1V102zM224 103v2h1V103zM225 105v1h1V105zM226 106v2h1V106zM227 108v1h1V108zM228 109v2h1V109zM229 111v1h1V111zM230 112v2h1V112zM231 114v2h1V114zM232 116v1h1V116zM233 117v2h1V117zM234 119v1h1V119zM235 120v2h1V120zM236 122v1h1V122zM237 123v2h1V123zM238 125v1h1V125zM239 126v2h1V126zM240 128v1h1V128zM241 129v2h1V129zM242 131v1h1V131zM243 132v2h1V132zM244 134v1h1V134zM245 135v2h1V135zM246 137v2h1V137zM247 139v1h1V139zM248 140v2h1V140zM249 142v1h1V142zM250 143v2h1V143zM251 145v1h1V145zM252 146v2h1V146zM253 148v1h1V148zM254 149v2h1V149zM255 151v1h1V151zM256 152v2h1V152zM257 154v1h1V154zM258 155v2h1V155zM259 157v1h1V157zM260 158v2h1V158zM261 160v2h1V160zM262 162v1h1V162zM263 163v2h1V163zM264 165v1h1V165zM265 166v2h1V166zM266 168v1h1V168zM267 169v2h1V169zM268 171v1h1V171zM269 172v2h1V172zM270 174v1h1V174zM271 175v2h1V175zM272 177v1h1V177zM273 178v2h1V178zM274 180v1h1V180zM275 181v2h1V181zM276 183v2h1V183zM277 185v1h1V185zM278 186v2h1V186zM279 188v1h1V188zM280 189v2h1V189zM281 191v1h1V191zM282 192v2h1V192zM283 194v1h1V194zM284 195v2h1V195zM285 197v1h1V197zM286 198v2h1V198zM287 200v1h1V200zM288 201v2h1V201zM289 203v1h1V203zM290 204v2h1V204zM291 206v2h1V206zM292 208v1h1V208zM293 209v2h1V209zM294 211v1h1V211zM295 212v2h1V212zM296 214v1h1V214zM297 215v2h1V215zM298 217v1h1V217zM299 218v2h1V218zM300 220v1h1V220zM301 221v2h1V221zM302 223v1h1V223zM303 224v2h1V224zM304 226v1h1V226zM305 227v2h1V227zM306 229v1h1V229zM307 230v2h1V230zM308 232v2h1V232zM309 234v1h1V234zM310 235v2h1V235zM311 237v1h1V237zM312 238v2h1V238zM313 240v1h1V240zM314 241v2h1V241zM315 243v1h1V243zM316 244v2h1V244zM317 246v1h1V246zM318 247v2h1V247zM319 249v1h1V249zM320 250v2h1V250zM321 252v1h1V252zM322 253v2h1V253zM323 255v2h1V255zM324 257v1h1V257zM325 258v2h1V258zM326 260v1h1V260zM327 261v2h1V261zM328 263v1h1V263zM329 264v2h1V264zM330 266v1h1V266z" fill="#0000ff" stroke="none"/>
</svg>
</body></html>
